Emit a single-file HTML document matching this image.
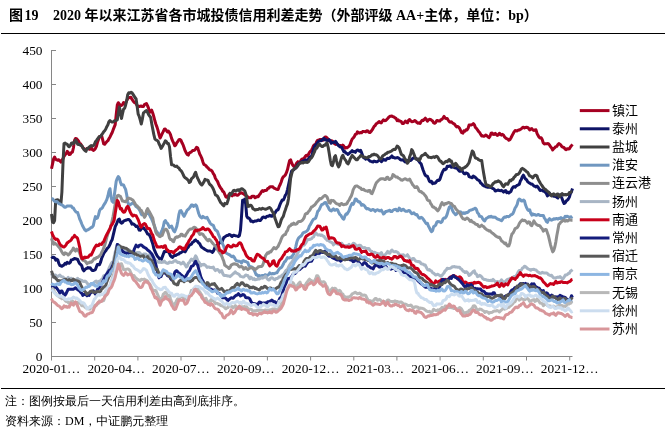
<!DOCTYPE html>
<html><head><meta charset="utf-8"><style>
*{margin:0;padding:0;box-sizing:border-box}
html,body{width:665px;height:437px;background:#fff;overflow:hidden}
body{position:relative;font-family:"Liberation Serif","Noto Sans CJK SC",serif;color:#000}
.title{position:absolute;top:6px;font-size:14px;line-height:20px;font-weight:bold;white-space:pre;font-family:"Liberation Serif","Noto Sans CJK SC",serif}
.rule{position:absolute;left:1px;width:664px;height:1px;background:#000}
.yl{position:absolute;left:0;width:42.5px;text-align:right;font-size:13.33px;line-height:16px}
.xl{position:absolute;top:361px;width:80px;text-align:center;font-size:13.33px;line-height:16px;white-space:nowrap}
.lt{position:absolute;left:612px;font-size:13px;line-height:18px;font-family:"Liberation Sans","Noto Sans CJK SC",sans-serif;letter-spacing:0}
.note{position:absolute;left:5px;font-size:12px;line-height:16px;white-space:pre;font-family:"Liberation Serif","WenQuanYi Zen Hei",serif}
svg{position:absolute;left:0;top:0}
</style></head><body>
<div class="title" style="left:9px">图</div><div class="title" style="left:24.5px">19</div><div class="title" style="left:53px">2020 年以来江苏省各市城投债信用利差走势（外部评级 AA+主体，单位：bp）</div>
<div class="rule" style="top:33px"></div>
<svg width="665" height="437" viewBox="0 0 665 437">
<g stroke="#868686" stroke-width="1" fill="none">
<line x1="51.5" y1="50" x2="51.5" y2="360.5"/>
<line x1="51" y1="356.5" x2="572.5" y2="356.5"/>
<line x1="51.5" y1="50.5" x2="56" y2="50.5"/><line x1="51.5" y1="84.5" x2="56" y2="84.5"/><line x1="51.5" y1="118.5" x2="56" y2="118.5"/><line x1="51.5" y1="152.5" x2="56" y2="152.5"/><line x1="51.5" y1="186.5" x2="56" y2="186.5"/><line x1="51.5" y1="220.5" x2="56" y2="220.5"/><line x1="51.5" y1="254.5" x2="56" y2="254.5"/><line x1="51.5" y1="288.5" x2="56" y2="288.5"/><line x1="51.5" y1="322.5" x2="56" y2="322.5"/>
<line x1="94.7" y1="356.5" x2="94.7" y2="360.5"/><line x1="137.9" y1="356.5" x2="137.9" y2="360.5"/><line x1="181.0" y1="356.5" x2="181.0" y2="360.5"/><line x1="224.2" y1="356.5" x2="224.2" y2="360.5"/><line x1="267.4" y1="356.5" x2="267.4" y2="360.5"/><line x1="310.6" y1="356.5" x2="310.6" y2="360.5"/><line x1="353.8" y1="356.5" x2="353.8" y2="360.5"/><line x1="396.9" y1="356.5" x2="396.9" y2="360.5"/><line x1="440.1" y1="356.5" x2="440.1" y2="360.5"/><line x1="483.3" y1="356.5" x2="483.3" y2="360.5"/><line x1="526.5" y1="356.5" x2="526.5" y2="360.5"/><line x1="569.7" y1="356.5" x2="569.7" y2="360.5"/>
</g>
<g fill="none" stroke-width="3.0" stroke-linejoin="round" stroke-linecap="butt">
<polyline points="51.5,168.7 52.5,164.1 53.6,158.9 54.6,157.0 55.7,159.3 56.7,159.9 57.8,160.2 58.8,159.7 59.9,160.9 60.9,162.1 61.9,160.3 63.0,158.7 64.0,156.3 65.1,154.8 66.1,153.8 67.2,151.4 68.2,152.4 69.2,154.6 70.3,154.3 71.3,152.6 72.4,152.1 73.4,148.0 74.5,140.4 75.5,138.5 76.6,138.7 77.6,139.9 78.6,141.2 79.7,143.6 80.7,144.0 81.8,145.7 82.8,147.4 83.9,148.6 84.9,149.8 86.0,149.4 87.0,148.5 88.0,148.3 89.1,149.2 90.1,149.3 91.2,147.4 92.2,149.6 93.3,150.4 94.3,149.9 95.4,148.5 96.4,146.3 97.4,142.5 98.5,139.4 99.5,136.6 100.6,136.2 101.6,135.5 102.7,139.8 103.7,143.9 104.7,144.2 105.8,142.9 106.8,141.6 107.9,140.7 108.9,138.8 110.0,136.9 111.0,134.8 112.1,132.7 113.1,129.9 114.1,127.4 115.2,124.6 116.2,114.6 117.3,104.8 118.3,102.7 119.4,104.1 120.4,105.6 121.5,105.5 122.5,104.6 123.5,102.6 124.6,103.9 125.6,102.9 126.7,100.6 127.7,98.5 128.8,97.8 129.8,97.4 130.9,97.3 131.9,99.2 132.9,100.6 134.0,102.3 135.0,102.7 136.1,103.8 137.1,105.5 138.2,106.0 139.2,106.6 140.2,106.3 141.3,106.0 142.3,106.6 143.4,106.5 144.4,104.6 145.5,104.0 146.5,103.6 147.6,105.9 148.6,108.4 149.6,112.4 150.7,111.5 151.7,110.2 152.8,113.2 153.8,116.6 154.9,121.0 155.9,124.2 157.0,127.1 158.0,130.4 159.0,134.5 160.1,138.0 161.1,136.0 162.2,133.7 163.2,131.7 164.3,129.3 165.3,129.0 166.3,130.4 167.4,132.0 168.4,131.1 169.5,132.6 170.5,134.7 171.6,138.4 172.6,140.9 173.7,143.2 174.7,145.8 175.7,145.0 176.8,142.7 177.8,141.6 178.9,139.6 179.9,139.4 181.0,140.4 182.0,142.8 183.1,144.9 184.1,147.8 185.1,150.7 186.2,152.9 187.2,154.4 188.3,155.1 189.3,153.0 190.4,152.4 191.4,151.9 192.5,150.6 193.5,150.6 194.5,150.2 195.6,149.0 196.6,147.2 197.7,147.9 198.7,151.1 199.8,154.3 200.8,156.0 201.8,158.3 202.9,161.9 203.9,164.6 205.0,164.9 206.0,165.8 207.1,167.2 208.1,168.0 209.2,169.4 210.2,170.0 211.2,170.3 212.3,171.5 213.3,173.7 214.4,175.2 215.4,178.3 216.5,180.0 217.5,181.4 218.6,184.1 219.6,186.3 220.6,187.9 221.7,189.3 222.7,191.2 223.8,192.0 224.8,194.4 225.9,196.8 226.9,197.3 228.0,196.4 229.0,194.5 230.0,193.4 231.1,195.1 232.1,195.9 233.2,194.3 234.2,195.0 235.3,194.3 236.3,194.9 237.3,195.3 238.4,194.8 239.4,193.8 240.5,192.9 241.5,192.8 242.6,193.4 243.6,193.9 244.7,194.7 245.7,195.6 246.7,195.9 247.8,196.8 248.8,197.7 249.9,197.7 250.9,197.7 252.0,196.3 253.0,196.3 254.1,196.3 255.1,197.8 256.1,197.2 257.2,196.4 258.2,196.7 259.3,194.9 260.3,193.7 261.4,191.8 262.4,190.6 263.4,191.4 264.5,190.5 265.5,190.5 266.6,190.3 267.6,188.7 268.7,188.2 269.7,187.0 270.8,186.7 271.8,186.7 272.8,186.7 273.9,188.1 274.9,188.4 276.0,189.1 277.0,189.4 278.1,189.4 279.1,186.7 280.2,184.5 281.2,182.0 282.2,178.8 283.3,176.7 284.3,176.1 285.4,174.9 286.4,172.7 287.5,169.6 288.5,165.1 289.6,160.6 290.6,159.8 291.6,162.7 292.7,165.1 293.7,166.3 294.8,165.9 295.8,165.0 296.9,162.7 297.9,161.7 298.9,162.8 300.0,162.2 301.0,160.3 302.1,158.9 303.1,159.1 304.2,158.2 305.2,156.4 306.3,155.2 307.3,156.0 308.3,154.8 309.4,152.4 310.4,151.3 311.5,150.2 312.5,148.2 313.6,145.6 314.6,144.7 315.7,144.4 316.7,141.6 317.7,140.2 318.8,140.2 319.8,139.4 320.9,139.6 321.9,139.6 323.0,140.2 324.0,138.5 325.1,137.0 326.1,137.1 327.1,137.9 328.2,139.7 329.2,140.9 330.3,141.1 331.3,140.7 332.4,141.2 333.4,142.0 334.4,143.6 335.5,144.4 336.5,144.0 337.6,144.2 338.6,145.2 339.7,145.7 340.7,145.5 341.8,146.4 342.8,145.1 343.8,146.1 344.9,148.1 345.9,147.5 347.0,147.9 348.0,147.1 349.1,146.2 350.1,144.5 351.2,141.3 352.2,139.0 353.2,138.0 354.3,136.6 355.3,134.4 356.4,134.1 357.4,131.9 358.5,132.5 359.5,133.1 360.6,132.4 361.6,132.8 362.6,131.6 363.7,131.4 364.7,131.6 365.8,131.9 366.8,130.7 367.9,130.9 368.9,132.3 369.9,132.6 371.0,131.5 372.0,130.2 373.1,128.2 374.1,126.4 375.2,125.5 376.2,123.8 377.3,123.2 378.3,122.3 379.3,121.6 380.4,122.7 381.4,122.9 382.5,120.9 383.5,119.8 384.6,120.7 385.6,120.5 386.7,119.6 387.7,118.5 388.7,117.3 389.8,116.3 390.8,116.3 391.9,116.0 392.9,116.6 394.0,117.0 395.0,117.9 396.0,118.4 397.1,120.6 398.1,119.8 399.2,121.1 400.2,121.1 401.3,121.6 402.3,123.6 403.4,123.6 404.4,122.4 405.4,121.0 406.5,122.4 407.5,122.8 408.6,120.3 409.6,119.6 410.7,120.8 411.7,121.8 412.8,121.5 413.8,121.2 414.8,120.5 415.9,121.2 416.9,122.6 418.0,123.3 419.0,122.7 420.1,123.4 421.1,121.6 422.2,120.2 423.2,120.5 424.2,119.4 425.3,118.2 426.3,119.3 427.4,121.2 428.4,120.1 429.5,119.3 430.5,119.4 431.5,120.2 432.6,121.0 433.6,122.9 434.7,123.2 435.7,122.5 436.8,120.6 437.8,120.6 438.9,121.1 439.9,121.0 440.9,119.7 442.0,119.3 443.0,118.1 444.1,116.4 445.1,118.1 446.2,118.5 447.2,118.4 448.3,120.4 449.3,121.6 450.3,122.2 451.4,121.8 452.4,122.8 453.5,123.7 454.5,124.2 455.6,125.7 456.6,126.9 457.7,126.5 458.7,127.2 459.7,128.5 460.8,130.9 461.8,132.7 462.9,133.1 463.9,130.8 465.0,131.3 466.0,129.7 467.0,130.0 468.1,128.2 469.1,125.0 470.2,124.9 471.2,125.1 472.3,124.4 473.3,123.6 474.4,124.7 475.4,127.5 476.4,128.4 477.5,129.9 478.5,131.4 479.6,132.5 480.6,134.2 481.7,136.0 482.7,135.8 483.8,136.3 484.8,135.8 485.8,135.0 486.9,135.7 487.9,136.8 489.0,137.7 490.0,136.4 491.1,133.1 492.1,132.9 493.1,134.3 494.2,134.5 495.2,133.4 496.3,134.4 497.3,135.4 498.4,134.9 499.4,133.3 500.5,134.1 501.5,135.1 502.5,134.4 503.6,135.2 504.6,136.9 505.7,138.1 506.7,138.6 507.8,139.1 508.8,140.2 509.9,139.6 510.9,138.0 511.9,136.0 513.0,133.9 514.0,132.1 515.1,130.6 516.1,130.7 517.2,130.9 518.2,130.1 519.3,130.1 520.3,129.3 521.3,128.9 522.4,127.6 523.4,127.2 524.5,128.0 525.5,127.5 526.6,127.2 527.6,127.4 528.6,128.4 529.7,130.0 530.7,129.0 531.8,128.6 532.8,130.0 533.9,130.5 534.9,129.9 536.0,129.8 537.0,133.3 538.0,135.3 539.1,137.3 540.1,137.9 541.2,137.8 542.2,139.5 543.3,143.0 544.3,143.9 545.4,143.8 546.4,143.8 547.4,143.6 548.5,143.8 549.5,144.9 550.6,146.8 551.6,147.9 552.7,150.0 553.7,148.6 554.8,147.6 555.8,146.6 556.8,146.4 557.9,144.5 558.9,143.6 560.0,144.2 561.0,145.3 562.1,146.9 563.1,147.2 564.1,147.7 565.2,149.1 566.2,149.7 567.3,148.7 568.3,149.1 569.4,148.8 570.4,147.0 571.5,145.6 572.5,144.4" stroke="#A50021"/><polyline points="51.5,256.5 52.5,257.6 53.6,257.2 54.6,258.0 55.7,260.1 56.7,259.1 57.8,259.9 58.8,263.4 59.9,265.6 60.9,265.8 61.9,266.3 63.0,265.5 64.0,264.9 65.1,263.3 66.1,264.1 67.2,262.4 68.2,263.0 69.2,263.2 70.3,262.4 71.3,259.9 72.4,259.6 73.4,259.3 74.5,258.5 75.5,258.7 76.6,259.2 77.6,259.3 78.6,261.8 79.7,263.7 80.7,264.5 81.8,265.8 82.8,269.3 83.9,270.8 84.9,269.6 86.0,268.7 87.0,268.3 88.0,267.6 89.1,268.1 90.1,267.7 91.2,269.3 92.2,270.4 93.3,270.5 94.3,270.1 95.4,269.6 96.4,266.9 97.4,264.4 98.5,264.5 99.5,264.7 100.6,262.1 101.6,258.5 102.7,255.9 103.7,253.6 104.7,251.9 105.8,250.8 106.8,249.0 107.9,247.7 108.9,246.7 110.0,244.4 111.0,241.8 112.1,239.8 113.1,235.7 114.1,231.3 115.2,226.7 116.2,224.7 117.3,222.0 118.3,219.7 119.4,219.1 120.4,222.2 121.5,223.2 122.5,222.6 123.5,221.2 124.6,220.6 125.6,220.3 126.7,220.0 127.7,219.5 128.8,219.5 129.8,220.3 130.9,221.9 131.9,224.1 132.9,223.8 134.0,224.4 135.0,225.2 136.1,226.5 137.1,226.0 138.2,227.8 139.2,230.1 140.2,230.2 141.3,228.8 142.3,227.9 143.4,227.7 144.4,229.0 145.5,230.1 146.5,231.9 147.6,234.0 148.6,234.2 149.6,235.3 150.7,237.7 151.7,240.7 152.8,244.0 153.8,248.4 154.9,251.2 155.9,253.4 157.0,255.5 158.0,257.0 159.0,257.9 160.1,259.7 161.1,259.9 162.2,257.1 163.2,254.4 164.3,251.5 165.3,251.7 166.3,251.6 167.4,250.9 168.4,251.8 169.5,253.4 170.5,255.8 171.6,256.9 172.6,257.4 173.7,256.0 174.7,255.3 175.7,255.5 176.8,254.8 177.8,254.2 178.9,254.0 179.9,252.8 181.0,252.7 182.0,251.9 183.1,251.3 184.1,251.1 185.1,251.9 186.2,250.0 187.2,248.1 188.3,247.1 189.3,245.3 190.4,244.6 191.4,244.1 192.5,242.3 193.5,241.9 194.5,240.6 195.6,239.9 196.6,241.1 197.7,241.4 198.7,243.1 199.8,243.8 200.8,246.0 201.8,247.3 202.9,248.0 203.9,248.6 205.0,249.5 206.0,250.0 207.1,250.6 208.1,251.1 209.2,250.9 210.2,251.0 211.2,251.5 212.3,252.4 213.3,251.3 214.4,249.0 215.4,246.1 216.5,245.4 217.5,245.4 218.6,244.2 219.6,242.5 220.6,241.7 221.7,242.7 222.7,240.1 223.8,237.6 224.8,236.9 225.9,236.1 226.9,235.4 228.0,235.5 229.0,234.5 230.0,234.7 231.1,235.7 232.1,236.4 233.2,235.2 234.2,235.3 235.3,235.7 236.3,235.9 237.3,236.1 238.4,236.5 239.4,235.7 240.5,230.0 241.5,216.7 242.6,200.3 243.6,201.6 244.7,199.1 245.7,203.9 246.7,216.1 247.8,217.9 248.8,218.0 249.9,219.1 250.9,221.3 252.0,221.0 253.0,222.0 254.1,221.4 255.1,221.0 256.1,221.1 257.2,220.6 258.2,219.9 259.3,220.5 260.3,220.5 261.4,219.1 262.4,217.6 263.4,217.0 264.5,217.4 265.5,217.7 266.6,216.5 267.6,216.3 268.7,216.3 269.7,215.2 270.8,216.0 271.8,216.3 272.8,214.9 273.9,214.5 274.9,213.2 276.0,211.2 277.0,210.0 278.1,209.7 279.1,207.1 280.2,204.1 281.2,201.9 282.2,200.1 283.3,200.0 284.3,198.1 285.4,195.1 286.4,193.9 287.5,189.6 288.5,185.0 289.6,179.9 290.6,174.9 291.6,171.2 292.7,170.3 293.7,169.9 294.8,168.2 295.8,167.9 296.9,166.9 297.9,164.5 298.9,163.4 300.0,162.9 301.0,162.3 302.1,161.6 303.1,160.9 304.2,160.6 305.2,160.0 306.3,160.0 307.3,160.3 308.3,159.4 309.4,157.5 310.4,156.8 311.5,156.6 312.5,153.1 313.6,149.1 314.6,146.3 315.7,144.7 316.7,143.7 317.7,142.4 318.8,141.3 319.8,140.7 320.9,140.7 321.9,140.4 323.0,139.0 324.0,138.3 325.1,140.0 326.1,139.7 327.1,140.5 328.2,140.4 329.2,139.6 330.3,140.9 331.3,143.3 332.4,142.5 333.4,142.2 334.4,142.3 335.5,141.3 336.5,142.7 337.6,144.6 338.6,145.7 339.7,146.6 340.7,147.1 341.8,147.5 342.8,149.7 343.8,151.7 344.9,151.5 345.9,153.1 347.0,153.4 348.0,154.5 349.1,153.5 350.1,152.4 351.2,151.7 352.2,150.6 353.2,151.8 354.3,151.6 355.3,152.3 356.4,150.7 357.4,150.1 358.5,150.2 359.5,151.2 360.6,150.3 361.6,152.7 362.6,155.6 363.7,157.7 364.7,158.0 365.8,159.2 366.8,158.3 367.9,159.0 368.9,160.0 369.9,161.0 371.0,161.4 372.0,161.7 373.1,162.1 374.1,161.0 375.2,161.5 376.2,161.7 377.3,161.7 378.3,160.9 379.3,160.1 380.4,160.2 381.4,161.7 382.5,160.4 383.5,159.3 384.6,160.1 385.6,160.3 386.7,158.8 387.7,158.2 388.7,158.6 389.8,158.0 390.8,157.2 391.9,155.9 392.9,157.4 394.0,157.6 395.0,158.0 396.0,157.9 397.1,157.6 398.1,157.7 399.2,158.4 400.2,159.7 401.3,160.1 402.3,159.7 403.4,160.3 404.4,161.3 405.4,162.1 406.5,161.8 407.5,160.6 408.6,160.6 409.6,160.5 410.7,160.5 411.7,159.4 412.8,158.3 413.8,157.8 414.8,157.6 415.9,158.5 416.9,159.3 418.0,160.2 419.0,161.3 420.1,162.9 421.1,163.8 422.2,167.2 423.2,170.3 424.2,172.8 425.3,175.3 426.3,176.0 427.4,176.3 428.4,178.7 429.5,181.3 430.5,182.0 431.5,181.3 432.6,183.6 433.6,183.1 434.7,183.2 435.7,182.6 436.8,181.1 437.8,180.2 438.9,180.4 439.9,179.4 440.9,176.3 442.0,173.2 443.0,171.0 444.1,169.2 445.1,169.7 446.2,169.0 447.2,166.3 448.3,166.5 449.3,166.1 450.3,165.8 451.4,167.3 452.4,166.8 453.5,166.7 454.5,167.7 455.6,168.1 456.6,167.5 457.7,169.1 458.7,170.4 459.7,171.3 460.8,171.3 461.8,170.2 462.9,172.0 463.9,173.5 465.0,173.9 466.0,172.9 467.0,173.3 468.1,174.0 469.1,176.6 470.2,177.0 471.2,177.3 472.3,177.8 473.3,176.1 474.4,176.7 475.4,177.5 476.4,178.6 477.5,179.8 478.5,180.1 479.6,181.0 480.6,183.0 481.7,183.7 482.7,185.0 483.8,185.8 484.8,186.2 485.8,186.7 486.9,186.9 487.9,187.3 489.0,187.2 490.0,187.2 491.1,187.4 492.1,188.1 493.1,188.6 494.2,189.3 495.2,191.0 496.3,190.7 497.3,190.3 498.4,190.1 499.4,190.6 500.5,190.7 501.5,190.3 502.5,191.2 503.6,192.1 504.6,191.0 505.7,190.6 506.7,192.6 507.8,192.0 508.8,193.0 509.9,192.1 510.9,191.5 511.9,188.9 513.0,187.2 514.0,186.7 515.1,187.2 516.1,186.1 517.2,185.3 518.2,184.9 519.3,184.2 520.3,181.1 521.3,179.4 522.4,176.6 523.4,175.2 524.5,177.3 525.5,179.0 526.6,179.7 527.6,181.6 528.6,182.5 529.7,183.1 530.7,183.9 531.8,184.1 532.8,184.8 533.9,186.0 534.9,186.2 536.0,186.9 537.0,186.0 538.0,187.0 539.1,188.9 540.1,190.5 541.2,190.3 542.2,190.2 543.3,191.3 544.3,191.1 545.4,192.4 546.4,193.7 547.4,195.9 548.5,195.1 549.5,193.1 550.6,195.1 551.6,195.4 552.7,195.7 553.7,196.2 554.8,196.3 555.8,196.7 556.8,197.2 557.9,198.0 558.9,195.6 560.0,194.8 561.0,196.4 562.1,198.7 563.1,201.5 564.1,203.5 565.2,202.9 566.2,201.0 567.3,200.1 568.3,199.1 569.4,197.1 570.4,193.7 571.5,191.6 572.5,188.5" stroke="#0E1466"/><polyline points="51.5,214.0 52.5,222.0 53.6,222.7 54.6,220.6 55.7,200.4 56.7,199.9 57.8,199.8 58.8,201.0 59.9,203.2 60.9,204.0 61.9,192.0 63.0,163.1 64.0,143.5 65.1,143.0 66.1,144.1 67.2,144.2 68.2,146.0 69.2,146.8 70.3,145.6 71.3,143.4 72.4,142.8 73.4,143.8 74.5,142.2 75.5,140.1 76.6,142.0 77.6,144.1 78.6,144.6 79.7,144.4 80.7,145.4 81.8,145.8 82.8,147.7 83.9,149.4 84.9,150.5 86.0,151.3 87.0,148.5 88.0,148.6 89.1,147.3 90.1,146.2 91.2,145.6 92.2,146.0 93.3,145.7 94.3,144.5 95.4,141.8 96.4,140.6 97.4,139.1 98.5,137.6 99.5,136.6 100.6,136.5 101.6,134.9 102.7,133.4 103.7,131.8 104.7,130.7 105.8,129.0 106.8,126.7 107.9,124.8 108.9,121.8 110.0,120.6 111.0,121.5 112.1,122.1 113.1,122.0 114.1,121.0 115.2,120.7 116.2,120.6 117.3,119.8 118.3,113.5 119.4,107.1 120.4,111.4 121.5,118.5 122.5,113.6 123.5,109.4 124.6,108.3 125.6,105.2 126.7,100.5 127.7,94.8 128.8,92.7 129.8,93.2 130.9,92.3 131.9,92.6 132.9,94.1 134.0,95.9 135.0,97.5 136.1,99.0 137.1,106.0 138.2,114.2 139.2,116.3 140.2,119.8 141.3,124.0 142.3,119.4 143.4,113.0 144.4,112.2 145.5,111.2 146.5,110.5 147.6,112.5 148.6,114.7 149.6,116.0 150.7,117.4 151.7,123.4 152.8,129.3 153.8,134.4 154.9,139.0 155.9,139.9 157.0,140.3 158.0,141.1 159.0,143.8 160.1,145.9 161.1,148.4 162.2,146.6 163.2,144.9 164.3,142.9 165.3,140.9 166.3,141.5 167.4,143.5 168.4,143.4 169.5,146.9 170.5,156.4 171.6,164.7 172.6,164.8 173.7,165.2 174.7,166.3 175.7,166.4 176.8,166.1 177.8,167.4 178.9,168.1 179.9,169.8 181.0,170.7 182.0,172.1 183.1,174.3 184.1,176.6 185.1,177.8 186.2,178.4 187.2,179.3 188.3,180.4 189.3,182.5 190.4,181.7 191.4,178.9 192.5,177.9 193.5,176.9 194.5,174.2 195.6,172.3 196.6,175.4 197.7,178.4 198.7,180.3 199.8,182.6 200.8,184.2 201.8,185.0 202.9,183.5 203.9,181.9 205.0,179.4 206.0,180.0 207.1,179.9 208.1,180.6 209.2,183.5 210.2,184.8 211.2,185.5 212.3,187.1 213.3,189.0 214.4,191.8 215.4,194.9 216.5,195.4 217.5,196.2 218.6,198.3 219.6,200.6 220.6,202.4 221.7,203.6 222.7,204.9 223.8,205.8 224.8,203.4 225.9,203.8 226.9,203.7 228.0,200.6 229.0,196.5 230.0,193.4 231.1,194.3 232.1,192.9 233.2,190.9 234.2,190.3 235.3,191.0 236.3,190.9 237.3,189.9 238.4,189.8 239.4,190.9 240.5,189.3 241.5,188.7 242.6,189.0 243.6,189.9 244.7,190.8 245.7,193.5 246.7,197.6 247.8,206.4 248.8,206.3 249.9,205.3 250.9,205.2 252.0,206.7 253.0,208.9 254.1,209.2 255.1,210.1 256.1,209.7 257.2,209.5 258.2,209.5 259.3,208.5 260.3,209.0 261.4,209.2 262.4,208.3 263.4,208.6 264.5,208.9 265.5,209.3 266.6,208.8 267.6,208.4 268.7,207.9 269.7,207.5 270.8,208.5 271.8,210.7 272.8,212.3 273.9,213.8 274.9,218.1 276.0,221.0 277.0,223.9 278.1,226.8 279.1,226.5 280.2,223.5 281.2,220.0 282.2,218.0 283.3,216.4 284.3,212.8 285.4,209.7 286.4,206.6 287.5,203.9 288.5,198.7 289.6,188.4 290.6,178.5 291.6,174.2 292.7,170.3 293.7,169.6 294.8,168.5 295.8,168.1 296.9,166.4 297.9,165.7 298.9,164.2 300.0,163.2 301.0,163.1 302.1,162.2 303.1,162.9 304.2,162.2 305.2,162.2 306.3,162.3 307.3,162.5 308.3,162.0 309.4,160.3 310.4,158.7 311.5,157.8 312.5,156.2 313.6,153.6 314.6,151.6 315.7,148.6 316.7,148.2 317.7,146.5 318.8,144.5 319.8,144.3 320.9,145.8 321.9,146.4 323.0,146.4 324.0,145.2 325.1,145.3 326.1,143.5 327.1,143.0 328.2,147.3 329.2,153.2 330.3,160.3 331.3,165.0 332.4,165.7 333.4,162.3 334.4,157.2 335.5,155.7 336.5,160.6 337.6,164.9 338.6,166.9 339.7,164.8 340.7,160.7 341.8,156.9 342.8,155.2 343.8,157.6 344.9,159.3 345.9,160.7 347.0,163.0 348.0,163.9 349.1,162.0 350.1,159.3 351.2,157.2 352.2,155.4 353.2,156.5 354.3,157.7 355.3,158.8 356.4,159.8 357.4,159.7 358.5,157.9 359.5,157.1 360.6,155.6 361.6,155.7 362.6,156.4 363.7,157.1 364.7,157.2 365.8,157.7 366.8,157.8 367.9,157.3 368.9,156.6 369.9,156.7 371.0,155.8 372.0,154.7 373.1,155.0 374.1,154.1 375.2,154.9 376.2,154.7 377.3,155.4 378.3,156.7 379.3,158.3 380.4,159.0 381.4,158.3 382.5,156.2 383.5,155.3 384.6,154.7 385.6,153.7 386.7,153.4 387.7,152.3 388.7,152.3 389.8,151.7 390.8,151.4 391.9,150.7 392.9,149.8 394.0,149.3 395.0,149.6 396.0,148.4 397.1,146.0 398.1,146.6 399.2,147.9 400.2,151.0 401.3,154.3 402.3,155.0 403.4,155.8 404.4,157.7 405.4,159.4 406.5,160.9 407.5,163.3 408.6,161.6 409.6,156.8 410.7,154.1 411.7,149.6 412.8,151.2 413.8,153.7 414.8,156.6 415.9,158.9 416.9,159.3 418.0,158.9 419.0,160.4 420.1,159.3 421.1,156.5 422.2,155.4 423.2,155.1 424.2,154.4 425.3,153.3 426.3,154.8 427.4,155.6 428.4,157.2 429.5,157.3 430.5,157.4 431.5,157.7 432.6,157.2 433.6,156.8 434.7,157.5 435.7,156.5 436.8,156.3 437.8,157.3 438.9,159.4 439.9,161.0 440.9,161.3 442.0,162.7 443.0,163.7 444.1,163.0 445.1,161.9 446.2,161.2 447.2,161.8 448.3,160.3 449.3,159.5 450.3,161.3 451.4,161.1 452.4,163.9 453.5,166.3 454.5,165.0 455.6,163.3 456.6,164.4 457.7,166.1 458.7,167.0 459.7,167.5 460.8,168.7 461.8,170.0 462.9,168.4 463.9,167.9 465.0,167.4 466.0,166.4 467.0,165.7 468.1,164.1 469.1,162.5 470.2,158.3 471.2,154.9 472.3,151.0 473.3,152.0 474.4,155.5 475.4,157.9 476.4,158.3 477.5,158.6 478.5,159.7 479.6,160.2 480.6,160.5 481.7,160.4 482.7,167.4 483.8,174.1 484.8,179.6 485.8,184.0 486.9,185.4 487.9,185.3 489.0,185.6 490.0,186.7 491.1,186.4 492.1,185.3 493.1,183.6 494.2,182.9 495.2,181.7 496.3,181.9 497.3,181.5 498.4,180.8 499.4,181.7 500.5,182.2 501.5,183.8 502.5,185.6 503.6,186.7 504.6,185.1 505.7,183.7 506.7,184.0 507.8,184.3 508.8,182.2 509.9,180.3 510.9,180.8 511.9,179.4 513.0,179.2 514.0,177.3 515.1,176.3 516.1,174.8 517.2,174.5 518.2,174.3 519.3,173.1 520.3,171.3 521.3,169.2 522.4,168.3 523.4,169.1 524.5,169.8 525.5,170.7 526.6,171.7 527.6,172.3 528.6,174.1 529.7,175.9 530.7,176.2 531.8,176.9 532.8,178.0 533.9,176.1 534.9,175.3 536.0,175.3 537.0,176.0 538.0,179.1 539.1,181.0 540.1,182.8 541.2,184.5 542.2,185.9 543.3,187.7 544.3,188.6 545.4,189.4 546.4,190.4 547.4,191.2 548.5,191.9 549.5,193.3 550.6,194.3 551.6,196.0 552.7,194.4 553.7,193.9 554.8,195.0 555.8,195.2 556.8,194.3 557.9,194.0 558.9,196.4 560.0,196.5 561.0,194.6 562.1,193.6 563.1,195.0 564.1,194.8 565.2,194.4 566.2,194.9 567.3,194.4 568.3,194.4 569.4,192.5 570.4,192.4 571.5,191.7 572.5,191.6" stroke="#404040"/><polyline points="51.5,198.7 52.5,198.7 53.6,200.2 54.6,201.3 55.7,201.8 56.7,201.5 57.8,202.4 58.8,203.7 59.9,203.8 60.9,204.6 61.9,205.0 63.0,205.5 64.0,206.8 65.1,207.3 66.1,206.9 67.2,205.9 68.2,205.9 69.2,206.0 70.3,206.1 71.3,206.1 72.4,207.8 73.4,208.0 74.5,210.0 75.5,211.4 76.6,212.3 77.6,212.5 78.6,215.4 79.7,219.0 80.7,221.1 81.8,224.0 82.8,226.3 83.9,228.2 84.9,229.9 86.0,230.9 87.0,230.0 88.0,229.7 89.1,229.2 90.1,228.4 91.2,227.4 92.2,227.2 93.3,225.6 94.3,220.8 95.4,216.6 96.4,218.5 97.4,217.9 98.5,214.9 99.5,210.8 100.6,208.9 101.6,208.6 102.7,207.2 103.7,205.2 104.7,203.7 105.8,201.7 106.8,199.6 107.9,196.0 108.9,191.3 110.0,188.7 111.0,196.7 112.1,201.3 113.1,202.3 114.1,196.9 115.2,188.8 116.2,181.3 117.3,178.4 118.3,176.5 119.4,178.1 120.4,182.2 121.5,184.8 122.5,184.7 123.5,184.9 124.6,187.4 125.6,189.4 126.7,194.8 127.7,201.3 128.8,205.5 129.8,204.9 130.9,204.3 131.9,203.4 132.9,203.1 134.0,203.7 135.0,205.0 136.1,206.7 137.1,207.1 138.2,208.2 139.2,209.5 140.2,211.2 141.3,214.2 142.3,214.9 143.4,214.5 144.4,214.5 145.5,214.4 146.5,213.4 147.6,213.4 148.6,213.8 149.6,214.9 150.7,217.3 151.7,219.1 152.8,221.8 153.8,224.1 154.9,227.3 155.9,230.4 157.0,232.1 158.0,233.2 159.0,234.9 160.1,236.2 161.1,232.4 162.2,229.7 163.2,227.0 164.3,221.9 165.3,220.5 166.3,222.3 167.4,223.3 168.4,225.1 169.5,227.5 170.5,226.5 171.6,226.0 172.6,228.6 173.7,230.9 174.7,231.8 175.7,229.3 176.8,226.3 177.8,221.3 178.9,214.4 179.9,210.9 181.0,210.6 182.0,212.5 183.1,215.0 184.1,216.4 185.1,214.3 186.2,212.2 187.2,210.1 188.3,209.3 189.3,208.1 190.4,206.7 191.4,205.1 192.5,204.9 193.5,206.4 194.5,205.8 195.6,204.8 196.6,206.0 197.7,209.9 198.7,213.5 199.8,216.1 200.8,217.3 201.8,217.9 202.9,216.4 203.9,217.4 205.0,217.7 206.0,218.0 207.1,217.4 208.1,219.4 209.2,221.3 210.2,223.2 211.2,224.2 212.3,224.9 213.3,225.3 214.4,228.1 215.4,230.0 216.5,230.6 217.5,231.6 218.6,234.7 219.6,236.9 220.6,239.8 221.7,242.4 222.7,244.0 223.8,246.5 224.8,249.8 225.9,252.7 226.9,253.4 228.0,254.1 229.0,254.5 230.0,255.1 231.1,256.2 232.1,256.8 233.2,256.1 234.2,257.2 235.3,259.3 236.3,260.7 237.3,260.9 238.4,261.2 239.4,261.3 240.5,261.7 241.5,263.0 242.6,261.0 243.6,260.6 244.7,261.4 245.7,261.4 246.7,262.2 247.8,262.6 248.8,265.4 249.9,266.5 250.9,266.7 252.0,267.1 253.0,267.7 254.1,269.9 255.1,272.2 256.1,274.7 257.2,274.8 258.2,276.3 259.3,275.5 260.3,276.1 261.4,275.9 262.4,275.4 263.4,275.6 264.5,275.2 265.5,274.7 266.6,275.5 267.6,275.3 268.7,274.6 269.7,272.9 270.8,273.8 271.8,273.9 272.8,273.4 273.9,273.7 274.9,273.4 276.0,272.9 277.0,272.7 278.1,270.8 279.1,269.2 280.2,267.9 281.2,267.7 282.2,266.3 283.3,264.3 284.3,262.0 285.4,261.2 286.4,259.5 287.5,257.5 288.5,258.0 289.6,258.0 290.6,257.0 291.6,257.5 292.7,255.3 293.7,254.0 294.8,250.5 295.8,246.6 296.9,241.8 297.9,239.2 298.9,237.6 300.0,236.8 301.0,236.1 302.1,234.6 303.1,232.8 304.2,232.3 305.2,232.1 306.3,231.4 307.3,230.6 308.3,229.2 309.4,226.0 310.4,224.6 311.5,222.5 312.5,220.6 313.6,219.1 314.6,218.9 315.7,218.0 316.7,215.0 317.7,211.4 318.8,210.4 319.8,208.5 320.9,206.0 321.9,204.4 323.0,204.3 324.0,203.3 325.1,202.5 326.1,202.7 327.1,205.5 328.2,207.1 329.2,209.4 330.3,210.5 331.3,210.9 332.4,209.7 333.4,208.8 334.4,210.2 335.5,210.2 336.5,209.4 337.6,209.9 338.6,212.2 339.7,214.3 340.7,215.1 341.8,217.0 342.8,218.5 343.8,219.2 344.9,216.0 345.9,214.1 347.0,214.3 348.0,212.6 349.1,210.8 350.1,207.5 351.2,205.0 352.2,203.3 353.2,204.3 354.3,201.8 355.3,199.1 356.4,199.3 357.4,200.9 358.5,201.9 359.5,201.7 360.6,203.1 361.6,205.3 362.6,204.5 363.7,205.1 364.7,206.0 365.8,207.9 366.8,208.9 367.9,208.6 368.9,209.1 369.9,209.7 371.0,210.4 372.0,209.9 373.1,209.4 374.1,210.2 375.2,211.3 376.2,210.2 377.3,209.8 378.3,210.1 379.3,210.8 380.4,210.9 381.4,210.1 382.5,212.1 383.5,214.0 384.6,213.1 385.6,211.6 386.7,211.4 387.7,211.0 388.7,210.7 389.8,210.2 390.8,211.6 391.9,211.6 392.9,210.4 394.0,209.6 395.0,209.4 396.0,209.3 397.1,210.8 398.1,210.7 399.2,208.1 400.2,209.1 401.3,210.6 402.3,209.6 403.4,209.2 404.4,210.3 405.4,211.2 406.5,211.2 407.5,211.2 408.6,210.5 409.6,210.7 410.7,212.3 411.7,213.7 412.8,213.4 413.8,212.8 414.8,214.0 415.9,214.7 416.9,214.6 418.0,216.5 419.0,218.0 420.1,218.2 421.1,217.3 422.2,217.8 423.2,219.1 424.2,220.6 425.3,222.3 426.3,223.7 427.4,223.3 428.4,226.0 429.5,228.0 430.5,230.1 431.5,231.7 432.6,230.6 433.6,226.8 434.7,226.0 435.7,225.1 436.8,222.2 437.8,221.4 438.9,221.8 439.9,221.8 440.9,222.7 442.0,221.7 443.0,218.9 444.1,218.0 445.1,218.0 446.2,216.6 447.2,214.1 448.3,210.1 449.3,207.1 450.3,206.3 451.4,207.2 452.4,210.2 453.5,212.3 454.5,213.4 455.6,214.7 456.6,214.0 457.7,212.7 458.7,212.2 459.7,211.8 460.8,212.0 461.8,212.8 462.9,213.5 463.9,212.8 465.0,213.5 466.0,212.6 467.0,212.7 468.1,212.2 469.1,210.8 470.2,210.2 471.2,210.1 472.3,209.7 473.3,209.1 474.4,208.7 475.4,208.2 476.4,209.5 477.5,212.7 478.5,213.7 479.6,216.3 480.6,216.3 481.7,216.8 482.7,218.9 483.8,220.2 484.8,220.9 485.8,218.9 486.9,218.0 487.9,217.5 489.0,216.6 490.0,217.1 491.1,216.2 492.1,217.1 493.1,217.3 494.2,217.1 495.2,217.3 496.3,218.1 497.3,219.0 498.4,219.2 499.4,219.8 500.5,220.1 501.5,220.7 502.5,219.5 503.6,217.7 504.6,217.1 505.7,217.3 506.7,216.6 507.8,216.4 508.8,216.7 509.9,215.8 510.9,214.8 511.9,214.6 513.0,213.4 514.0,211.1 515.1,208.0 516.1,206.6 517.2,204.3 518.2,200.4 519.3,199.0 520.3,199.5 521.3,201.0 522.4,200.9 523.4,200.0 524.5,200.9 525.5,204.8 526.6,207.7 527.6,209.7 528.6,210.4 529.7,209.8 530.7,213.1 531.8,215.1 532.8,213.9 533.9,214.7 534.9,214.6 536.0,215.2 537.0,215.2 538.0,214.4 539.1,214.9 540.1,215.5 541.2,215.5 542.2,215.4 543.3,215.4 544.3,217.9 545.4,219.4 546.4,221.6 547.4,222.3 548.5,219.8 549.5,218.7 550.6,219.8 551.6,220.2 552.7,219.7 553.7,218.7 554.8,219.2 555.8,218.7 556.8,218.4 557.9,219.1 558.9,218.3 560.0,218.6 561.0,217.6 562.1,218.5 563.1,218.9 564.1,218.2 565.2,216.3 566.2,216.7 567.3,216.2 568.3,216.8 569.4,217.4 570.4,216.8 571.5,217.2 572.5,216.6" stroke="#7097C0"/><polyline points="51.5,238.4 52.5,241.6 53.6,244.3 54.6,242.9 55.7,243.8 56.7,244.6 57.8,245.7 58.8,247.0 59.9,248.2 60.9,250.1 61.9,252.0 63.0,253.8 64.0,254.6 65.1,252.8 66.1,253.3 67.2,254.0 68.2,255.0 69.2,254.2 70.3,252.8 71.3,251.2 72.4,250.1 73.4,248.0 74.5,250.0 75.5,251.1 76.6,249.1 77.6,249.8 78.6,250.9 79.7,253.1 80.7,256.4 81.8,259.1 82.8,260.3 83.9,260.5 84.9,260.8 86.0,262.2 87.0,263.8 88.0,262.7 89.1,262.7 90.1,262.0 91.2,262.3 92.2,261.5 93.3,259.9 94.3,258.6 95.4,258.9 96.4,257.6 97.4,257.6 98.5,256.7 99.5,255.8 100.6,254.8 101.6,252.5 102.7,250.6 103.7,247.9 104.7,245.4 105.8,241.3 106.8,237.3 107.9,233.7 108.9,230.9 110.0,228.6 111.0,225.5 112.1,220.9 113.1,216.3 114.1,210.5 115.2,203.9 116.2,199.2 117.3,195.8 118.3,195.3 119.4,195.9 120.4,196.3 121.5,198.8 122.5,201.1 123.5,201.1 124.6,201.6 125.6,201.8 126.7,200.4 127.7,198.4 128.8,198.1 129.8,198.6 130.9,198.7 131.9,199.7 132.9,200.2 134.0,201.8 135.0,203.7 136.1,205.3 137.1,205.8 138.2,207.4 139.2,207.8 140.2,209.9 141.3,210.3 142.3,212.4 143.4,214.4 144.4,217.4 145.5,215.7 146.5,210.6 147.6,208.6 148.6,210.5 149.6,212.1 150.7,214.2 151.7,216.2 152.8,218.3 153.8,223.8 154.9,228.0 155.9,232.3 157.0,234.2 158.0,234.9 159.0,236.2 160.1,236.7 161.1,235.9 162.2,235.4 163.2,232.7 164.3,230.1 165.3,229.3 166.3,229.3 167.4,230.9 168.4,233.7 169.5,238.2 170.5,239.5 171.6,239.4 172.6,241.1 173.7,241.6 174.7,238.8 175.7,237.3 176.8,236.8 177.8,237.3 178.9,236.2 179.9,236.2 181.0,234.3 182.0,234.3 183.1,235.7 184.1,235.8 185.1,236.2 186.2,234.0 187.2,232.6 188.3,230.8 189.3,229.8 190.4,228.9 191.4,229.0 192.5,228.6 193.5,227.6 194.5,227.2 195.6,227.8 196.6,229.2 197.7,230.7 198.7,232.7 199.8,234.4 200.8,233.7 201.8,233.8 202.9,234.3 203.9,236.0 205.0,237.2 206.0,238.7 207.1,240.0 208.1,240.8 209.2,239.4 210.2,240.1 211.2,241.4 212.3,242.8 213.3,244.0 214.4,245.0 215.4,246.0 216.5,247.8 217.5,249.6 218.6,251.2 219.6,252.8 220.6,254.2 221.7,255.9 222.7,258.6 223.8,261.3 224.8,265.3 225.9,265.9 226.9,266.8 228.0,267.4 229.0,268.5 230.0,267.7 231.1,265.2 232.1,264.7 233.2,263.9 234.2,263.8 235.3,264.0 236.3,264.4 237.3,264.4 238.4,266.0 239.4,267.0 240.5,266.8 241.5,266.4 242.6,267.2 243.6,269.2 244.7,268.1 245.7,267.5 246.7,268.8 247.8,269.5 248.8,268.7 249.9,268.0 250.9,267.7 252.0,267.6 253.0,268.8 254.1,268.5 255.1,269.8 256.1,268.7 257.2,268.1 258.2,266.8 259.3,266.7 260.3,266.5 261.4,266.6 262.4,265.7 263.4,263.2 264.5,259.4 265.5,255.8 266.6,254.1 267.6,252.7 268.7,253.2 269.7,251.7 270.8,252.0 271.8,250.4 272.8,249.1 273.9,247.6 274.9,248.3 276.0,248.8 277.0,247.5 278.1,246.4 279.1,244.0 280.2,241.9 281.2,239.1 282.2,236.8 283.3,235.6 284.3,234.7 285.4,234.6 286.4,231.8 287.5,230.5 288.5,227.4 289.6,226.0 290.6,225.6 291.6,224.0 292.7,224.4 293.7,223.1 294.8,224.3 295.8,224.2 296.9,223.6 297.9,222.1 298.9,221.5 300.0,221.6 301.0,221.3 302.1,220.6 303.1,219.4 304.2,217.6 305.2,214.4 306.3,213.4 307.3,213.6 308.3,211.8 309.4,210.7 310.4,209.2 311.5,206.9 312.5,206.7 313.6,205.7 314.6,205.0 315.7,203.7 316.7,202.1 317.7,201.2 318.8,199.8 319.8,198.5 320.9,198.9 321.9,198.1 323.0,196.9 324.0,196.0 325.1,195.4 326.1,196.0 327.1,197.1 328.2,200.0 329.2,202.6 330.3,203.1 331.3,200.4 332.4,200.7 333.4,200.6 334.4,201.6 335.5,202.8 336.5,203.6 337.6,204.0 338.6,204.3 339.7,205.4 340.7,203.9 341.8,203.5 342.8,204.6 343.8,204.8 344.9,204.2 345.9,204.4 347.0,203.5 348.0,201.4 349.1,200.1 350.1,197.9 351.2,196.1 352.2,193.5 353.2,189.6 354.3,187.6 355.3,186.2 356.4,186.0 357.4,186.1 358.5,186.9 359.5,187.7 360.6,187.9 361.6,189.5 362.6,189.4 363.7,189.3 364.7,190.4 365.8,190.7 366.8,190.9 367.9,191.4 368.9,190.4 369.9,190.5 371.0,193.2 372.0,193.6 373.1,191.1 374.1,188.4 375.2,185.4 376.2,183.0 377.3,181.7 378.3,180.7 379.3,179.9 380.4,179.0 381.4,178.7 382.5,178.8 383.5,178.8 384.6,179.5 385.6,179.5 386.7,177.5 387.7,177.2 388.7,179.2 389.8,179.5 390.8,178.6 391.9,177.8 392.9,174.6 394.0,175.3 395.0,176.2 396.0,176.9 397.1,176.9 398.1,177.9 399.2,178.3 400.2,179.1 401.3,180.1 402.3,180.2 403.4,179.5 404.4,179.0 405.4,178.8 406.5,179.3 407.5,180.1 408.6,180.0 409.6,179.0 410.7,181.2 411.7,182.9 412.8,185.0 413.8,185.9 414.8,187.5 415.9,187.6 416.9,186.7 418.0,188.2 419.0,190.8 420.1,191.7 421.1,191.5 422.2,192.8 423.2,193.2 424.2,194.4 425.3,195.7 426.3,197.2 427.4,199.8 428.4,200.6 429.5,200.8 430.5,203.3 431.5,204.7 432.6,206.9 433.6,206.9 434.7,208.0 435.7,208.3 436.8,209.9 437.8,210.8 438.9,209.3 439.9,207.6 440.9,204.6 442.0,202.6 443.0,204.3 444.1,205.0 445.1,203.6 446.2,203.8 447.2,203.0 448.3,202.5 449.3,202.8 450.3,203.4 451.4,203.5 452.4,205.0 453.5,206.1 454.5,206.5 455.6,208.5 456.6,209.7 457.7,210.8 458.7,212.5 459.7,212.9 460.8,215.2 461.8,217.2 462.9,218.7 463.9,218.9 465.0,219.5 466.0,218.8 467.0,218.0 468.1,218.8 469.1,219.8 470.2,221.3 471.2,220.4 472.3,222.0 473.3,222.3 474.4,222.9 475.4,224.0 476.4,224.4 477.5,224.5 478.5,226.2 479.6,226.8 480.6,226.1 481.7,225.2 482.7,226.3 483.8,226.6 484.8,228.3 485.8,228.9 486.9,229.8 487.9,230.2 489.0,230.9 490.0,230.7 491.1,232.1 492.1,232.9 493.1,233.6 494.2,234.5 495.2,235.5 496.3,236.4 497.3,236.9 498.4,237.5 499.4,237.2 500.5,238.8 501.5,240.9 502.5,241.5 503.6,242.5 504.6,243.6 505.7,243.1 506.7,245.2 507.8,246.1 508.8,245.9 509.9,242.9 510.9,237.7 511.9,234.1 513.0,233.0 514.0,231.1 515.1,228.6 516.1,228.2 517.2,227.5 518.2,226.2 519.3,223.5 520.3,222.0 521.3,220.9 522.4,219.8 523.4,220.7 524.5,220.3 525.5,221.0 526.6,222.0 527.6,223.2 528.6,221.8 529.7,222.2 530.7,225.1 531.8,225.6 532.8,223.4 533.9,220.9 534.9,222.6 536.0,224.1 537.0,224.9 538.0,225.4 539.1,225.4 540.1,226.1 541.2,227.8 542.2,228.6 543.3,231.1 544.3,230.3 545.4,229.4 546.4,229.9 547.4,232.9 548.5,236.1 549.5,240.3 550.6,245.1 551.6,248.5 552.7,251.9 553.7,250.6 554.8,247.0 555.8,242.1 556.8,235.7 557.9,230.0 558.9,224.3 560.0,223.3 561.0,221.9 562.1,221.4 563.1,220.2 564.1,220.5 565.2,221.2 566.2,220.3 567.3,221.1 568.3,220.6 569.4,219.8 570.4,220.1 571.5,220.3 572.5,220.3" stroke="#8E8E8E"/><polyline points="51.5,273.6 52.5,275.7 53.6,276.3 54.6,275.1 55.7,275.1 56.7,276.0 57.8,276.6 58.8,275.8 59.9,275.1 60.9,276.3 61.9,276.7 63.0,276.9 64.0,278.4 65.1,279.5 66.1,279.1 67.2,278.7 68.2,277.4 69.2,279.7 70.3,278.7 71.3,278.2 72.4,279.8 73.4,281.1 74.5,280.8 75.5,280.0 76.6,279.2 77.6,278.3 78.6,279.7 79.7,279.4 80.7,280.6 81.8,280.2 82.8,281.3 83.9,281.5 84.9,281.1 86.0,281.6 87.0,283.0 88.0,284.2 89.1,284.4 90.1,284.5 91.2,283.6 92.2,283.8 93.3,284.8 94.3,282.3 95.4,281.3 96.4,281.1 97.4,283.0 98.5,281.6 99.5,281.1 100.6,280.7 101.6,279.4 102.7,278.1 103.7,275.9 104.7,276.7 105.8,276.5 106.8,274.2 107.9,271.1 108.9,268.7 110.0,266.2 111.0,264.1 112.1,262.3 113.1,262.0 114.1,257.4 115.2,252.2 116.2,248.3 117.3,244.6 118.3,246.1 119.4,247.6 120.4,249.3 121.5,251.1 122.5,250.5 123.5,248.9 124.6,249.9 125.6,250.2 126.7,251.1 127.7,251.3 128.8,250.0 129.8,250.3 130.9,252.6 131.9,252.8 132.9,252.2 134.0,252.2 135.0,252.7 136.1,253.2 137.1,252.6 138.2,252.7 139.2,252.4 140.2,253.3 141.3,255.3 142.3,255.1 143.4,254.1 144.4,254.1 145.5,253.9 146.5,254.9 147.6,256.9 148.6,255.1 149.6,255.4 150.7,256.7 151.7,258.1 152.8,258.2 153.8,258.3 154.9,259.9 155.9,260.4 157.0,262.0 158.0,261.8 159.0,262.3 160.1,261.3 161.1,262.4 162.2,262.2 163.2,262.2 164.3,261.1 165.3,262.2 166.3,262.9 167.4,263.4 168.4,263.2 169.5,261.9 170.5,262.1 171.6,262.6 172.6,262.4 173.7,261.2 174.7,260.8 175.7,260.6 176.8,261.7 177.8,262.4 178.9,262.2 179.9,262.8 181.0,264.0 182.0,263.5 183.1,262.1 184.1,263.2 185.1,264.9 186.2,266.9 187.2,266.2 188.3,263.3 189.3,262.6 190.4,260.5 191.4,259.0 192.5,259.5 193.5,260.8 194.5,258.4 195.6,255.9 196.6,257.4 197.7,260.6 198.7,261.9 199.8,263.6 200.8,265.9 201.8,264.5 202.9,264.9 203.9,264.3 205.0,265.0 206.0,265.8 207.1,267.4 208.1,267.1 209.2,267.0 210.2,267.6 211.2,267.5 212.3,267.7 213.3,267.1 214.4,269.4 215.4,270.6 216.5,269.7 217.5,269.5 218.6,270.4 219.6,272.1 220.6,271.0 221.7,270.5 222.7,273.4 223.8,275.2 224.8,275.5 225.9,275.5 226.9,275.7 228.0,276.1 229.0,275.9 230.0,276.6 231.1,275.6 232.1,274.8 233.2,273.7 234.2,273.0 235.3,271.8 236.3,273.1 237.3,273.4 238.4,274.1 239.4,274.8 240.5,276.4 241.5,276.6 242.6,276.9 243.6,277.0 244.7,276.1 245.7,275.0 246.7,275.4 247.8,275.5 248.8,277.3 249.9,278.8 250.9,277.2 252.0,278.1 253.0,279.4 254.1,278.6 255.1,279.8 256.1,279.5 257.2,279.3 258.2,279.0 259.3,279.1 260.3,278.3 261.4,277.7 262.4,278.2 263.4,277.8 264.5,277.0 265.5,276.2 266.6,277.7 267.6,279.3 268.7,280.0 269.7,279.6 270.8,277.9 271.8,277.7 272.8,278.1 273.9,279.4 274.9,279.7 276.0,278.4 277.0,278.6 278.1,278.0 279.1,276.8 280.2,276.9 281.2,276.1 282.2,275.0 283.3,274.7 284.3,273.2 285.4,271.2 286.4,270.0 287.5,269.4 288.5,267.0 289.6,265.1 290.6,263.5 291.6,262.4 292.7,260.7 293.7,258.8 294.8,258.0 295.8,256.5 296.9,255.0 297.9,252.8 298.9,250.9 300.0,249.9 301.0,247.2 302.1,246.1 303.1,244.8 304.2,245.0 305.2,243.8 306.3,242.1 307.3,239.4 308.3,239.8 309.4,239.3 310.4,239.3 311.5,238.7 312.5,237.5 313.6,237.0 314.6,234.5 315.7,232.8 316.7,233.9 317.7,234.9 318.8,235.1 319.8,234.8 320.9,235.4 321.9,235.0 323.0,236.1 324.0,236.4 325.1,238.2 326.1,238.9 327.1,240.3 328.2,240.4 329.2,241.2 330.3,241.9 331.3,242.3 332.4,242.9 333.4,244.9 334.4,243.7 335.5,242.5 336.5,243.7 337.6,243.7 338.6,244.5 339.7,243.7 340.7,243.5 341.8,243.2 342.8,244.9 343.8,245.9 344.9,246.0 345.9,245.6 347.0,245.7 348.0,245.5 349.1,244.3 350.1,245.6 351.2,247.0 352.2,244.8 353.2,243.2 354.3,243.4 355.3,244.5 356.4,245.7 357.4,245.7 358.5,245.5 359.5,245.2 360.6,245.5 361.6,246.8 362.6,247.4 363.7,248.1 364.7,247.6 365.8,248.2 366.8,248.4 367.9,248.7 368.9,248.5 369.9,250.1 371.0,251.2 372.0,251.5 373.1,253.1 374.1,252.3 375.2,252.5 376.2,253.0 377.3,253.5 378.3,253.7 379.3,255.3 380.4,253.6 381.4,252.5 382.5,254.8 383.5,257.5 384.6,255.3 385.6,254.3 386.7,252.8 387.7,251.4 388.7,253.1 389.8,253.2 390.8,251.3 391.9,250.0 392.9,251.2 394.0,251.8 395.0,251.7 396.0,251.5 397.1,252.0 398.1,252.7 399.2,254.6 400.2,255.2 401.3,255.0 402.3,255.0 403.4,254.8 404.4,256.0 405.4,256.1 406.5,255.7 407.5,254.7 408.6,256.7 409.6,258.2 410.7,259.0 411.7,259.7 412.8,258.5 413.8,258.4 414.8,260.1 415.9,261.3 416.9,261.3 418.0,261.7 419.0,261.5 420.1,262.1 421.1,263.7 422.2,263.9 423.2,264.2 424.2,265.1 425.3,265.1 426.3,267.3 427.4,269.4 428.4,270.1 429.5,269.6 430.5,270.8 431.5,271.0 432.6,272.8 433.6,273.2 434.7,274.2 435.7,275.1 436.8,274.7 437.8,274.2 438.9,274.9 439.9,275.7 440.9,276.2 442.0,275.4 443.0,274.1 444.1,272.8 445.1,270.7 446.2,270.1 447.2,268.3 448.3,268.4 449.3,268.4 450.3,268.2 451.4,267.6 452.4,266.7 453.5,266.7 454.5,266.5 455.6,267.1 456.6,267.1 457.7,267.2 458.7,267.3 459.7,267.3 460.8,268.8 461.8,269.4 462.9,271.0 463.9,271.4 465.0,272.5 466.0,271.7 467.0,272.2 468.1,273.5 469.1,275.5 470.2,275.0 471.2,273.6 472.3,272.6 473.3,271.3 474.4,270.9 475.4,273.7 476.4,274.2 477.5,276.6 478.5,276.3 479.6,275.3 480.6,275.8 481.7,276.8 482.7,278.6 483.8,279.4 484.8,279.3 485.8,279.7 486.9,280.2 487.9,280.2 489.0,280.5 490.0,280.4 491.1,280.2 492.1,280.7 493.1,279.4 494.2,280.6 495.2,281.5 496.3,282.3 497.3,281.4 498.4,281.9 499.4,281.9 500.5,281.4 501.5,279.8 502.5,281.2 503.6,282.1 504.6,282.1 505.7,281.0 506.7,280.0 507.8,279.2 508.8,279.3 509.9,278.4 510.9,279.7 511.9,279.1 513.0,277.2 514.0,276.6 515.1,276.8 516.1,275.8 517.2,274.2 518.2,271.9 519.3,270.5 520.3,270.4 521.3,270.1 522.4,268.1 523.4,267.6 524.5,266.2 525.5,266.6 526.6,267.6 527.6,268.6 528.6,269.1 529.7,269.5 530.7,270.3 531.8,269.4 532.8,269.5 533.9,269.2 534.9,269.8 536.0,269.9 537.0,271.1 538.0,272.0 539.1,272.6 540.1,273.2 541.2,273.2 542.2,272.3 543.3,272.8 544.3,273.1 545.4,272.9 546.4,273.0 547.4,273.4 548.5,274.7 549.5,275.2 550.6,275.7 551.6,275.2 552.7,276.9 553.7,277.9 554.8,277.9 555.8,278.1 556.8,277.4 557.9,277.1 558.9,277.4 560.0,276.6 561.0,277.6 562.1,278.5 563.1,278.6 564.1,277.2 565.2,275.1 566.2,275.1 567.3,274.7 568.3,273.4 569.4,273.2 570.4,271.3 571.5,270.6 572.5,269.7" stroke="#A8B5C4"/><polyline points="51.5,231.5 52.5,234.6 53.6,236.7 54.6,238.4 55.7,239.5 56.7,239.0 57.8,239.7 58.8,241.9 59.9,244.1 60.9,245.4 61.9,246.0 63.0,246.9 64.0,247.1 65.1,246.2 66.1,244.9 67.2,242.8 68.2,242.3 69.2,241.3 70.3,240.9 71.3,239.7 72.4,237.7 73.4,237.4 74.5,235.4 75.5,236.7 76.6,237.3 77.6,238.5 78.6,242.5 79.7,247.3 80.7,254.2 81.8,258.4 82.8,258.9 83.9,257.6 84.9,257.0 86.0,257.6 87.0,257.3 88.0,257.2 89.1,256.0 90.1,254.8 91.2,255.0 92.2,253.0 93.3,250.7 94.3,248.3 95.4,246.6 96.4,245.0 97.4,245.7 98.5,245.6 99.5,244.1 100.6,244.3 101.6,244.4 102.7,242.5 103.7,241.7 104.7,239.1 105.8,236.5 106.8,234.5 107.9,232.5 108.9,230.6 110.0,228.8 111.0,225.8 112.1,224.5 113.1,222.5 114.1,220.5 115.2,213.2 116.2,207.2 117.3,200.4 118.3,201.9 119.4,206.1 120.4,209.0 121.5,208.6 122.5,211.1 123.5,212.2 124.6,212.0 125.6,210.2 126.7,207.4 127.7,206.3 128.8,208.1 129.8,211.0 130.9,213.3 131.9,214.9 132.9,216.0 134.0,215.1 135.0,215.4 136.1,215.7 137.1,217.6 138.2,219.7 139.2,222.5 140.2,225.9 141.3,227.2 142.3,225.2 143.4,224.2 144.4,223.6 145.5,224.3 146.5,226.6 147.6,228.4 148.6,228.4 149.6,228.7 150.7,231.1 151.7,233.7 152.8,235.2 153.8,238.8 154.9,241.9 155.9,243.9 157.0,246.9 158.0,246.8 159.0,246.9 160.1,247.1 161.1,246.6 162.2,246.7 163.2,247.4 164.3,246.0 165.3,245.7 166.3,249.0 167.4,249.9 168.4,251.5 169.5,251.3 170.5,251.7 171.6,251.4 172.6,252.1 173.7,253.0 174.7,251.3 175.7,250.6 176.8,249.5 177.8,249.0 178.9,247.4 179.9,246.8 181.0,247.4 182.0,248.9 183.1,248.1 184.1,249.3 185.1,248.5 186.2,245.6 187.2,244.0 188.3,242.2 189.3,240.3 190.4,238.8 191.4,236.8 192.5,235.4 193.5,234.2 194.5,231.3 195.6,230.1 196.6,230.9 197.7,230.2 198.7,230.1 199.8,230.0 200.8,229.3 201.8,229.0 202.9,227.5 203.9,228.6 205.0,229.7 206.0,229.8 207.1,229.0 208.1,228.9 209.2,229.8 210.2,231.4 211.2,232.9 212.3,234.6 213.3,236.7 214.4,237.3 215.4,239.1 216.5,240.3 217.5,243.0 218.6,246.4 219.6,250.4 220.6,250.7 221.7,251.2 222.7,252.9 223.8,252.4 224.8,251.5 225.9,248.9 226.9,246.4 228.0,245.2 229.0,245.8 230.0,246.6 231.1,247.1 232.1,246.8 233.2,245.0 234.2,245.4 235.3,245.9 236.3,245.8 237.3,245.5 238.4,243.8 239.4,242.8 240.5,243.0 241.5,244.6 242.6,247.7 243.6,249.9 244.7,251.5 245.7,254.3 246.7,256.1 247.8,257.1 248.8,258.4 249.9,258.6 250.9,258.6 252.0,260.4 253.0,261.0 254.1,261.1 255.1,258.7 256.1,256.3 257.2,254.3 258.2,254.6 259.3,255.2 260.3,256.5 261.4,257.4 262.4,258.2 263.4,258.2 264.5,259.8 265.5,261.2 266.6,261.7 267.6,261.4 268.7,264.0 269.7,265.9 270.8,264.8 271.8,263.9 272.8,261.1 273.9,260.8 274.9,264.1 276.0,265.7 277.0,266.2 278.1,263.8 279.1,261.2 280.2,259.7 281.2,258.9 282.2,257.4 283.3,255.4 284.3,254.4 285.4,251.9 286.4,251.6 287.5,251.1 288.5,249.8 289.6,248.7 290.6,249.8 291.6,251.0 292.7,250.7 293.7,251.3 294.8,250.7 295.8,251.0 296.9,249.7 297.9,249.7 298.9,249.2 300.0,248.1 301.0,246.0 302.1,244.3 303.1,243.7 304.2,240.6 305.2,237.9 306.3,236.1 307.3,235.5 308.3,234.9 309.4,234.1 310.4,233.7 311.5,233.5 312.5,232.6 313.6,231.1 314.6,230.3 315.7,229.2 316.7,227.6 317.7,225.9 318.8,226.2 319.8,226.3 320.9,228.1 321.9,230.1 323.0,229.8 324.0,227.9 325.1,228.6 326.1,227.0 327.1,230.5 328.2,235.8 329.2,238.4 330.3,238.0 331.3,237.8 332.4,237.9 333.4,238.1 334.4,238.9 335.5,241.0 336.5,242.4 337.6,243.0 338.6,243.0 339.7,243.4 340.7,244.9 341.8,246.6 342.8,245.7 343.8,245.9 344.9,247.1 345.9,247.1 347.0,247.0 348.0,246.8 349.1,247.4 350.1,247.0 351.2,246.3 352.2,245.9 353.2,245.6 354.3,246.8 355.3,249.1 356.4,249.3 357.4,249.0 358.5,248.5 359.5,248.5 360.6,250.3 361.6,252.4 362.6,251.6 363.7,251.5 364.7,251.5 365.8,251.1 366.8,252.8 367.9,254.4 368.9,254.4 369.9,254.7 371.0,254.1 372.0,254.2 373.1,255.0 374.1,256.6 375.2,257.4 376.2,257.0 377.3,255.4 378.3,256.9 379.3,257.3 380.4,258.0 381.4,258.6 382.5,257.5 383.5,257.2 384.6,257.5 385.6,258.7 386.7,257.7 387.7,257.4 388.7,257.5 389.8,258.4 390.8,258.5 391.9,259.3 392.9,258.3 394.0,256.5 395.0,256.5 396.0,256.8 397.1,258.1 398.1,257.7 399.2,256.7 400.2,256.1 401.3,256.5 402.3,257.5 403.4,259.2 404.4,260.6 405.4,260.6 406.5,261.3 407.5,260.8 408.6,261.8 409.6,260.6 410.7,262.9 411.7,265.3 412.8,265.3 413.8,266.0 414.8,268.1 415.9,268.7 416.9,268.2 418.0,268.8 419.0,270.9 420.1,271.9 421.1,273.5 422.2,274.5 423.2,274.4 424.2,275.1 425.3,275.8 426.3,276.6 427.4,278.1 428.4,278.8 429.5,279.6 430.5,280.9 431.5,281.9 432.6,283.8 433.6,284.1 434.7,282.8 435.7,280.9 436.8,282.1 437.8,282.3 438.9,281.2 439.9,281.0 440.9,279.9 442.0,279.5 443.0,280.5 444.1,280.4 445.1,279.3 446.2,280.0 447.2,280.7 448.3,280.1 449.3,277.8 450.3,277.0 451.4,276.5 452.4,276.1 453.5,275.4 454.5,275.9 455.6,276.3 456.6,277.1 457.7,279.0 458.7,277.3 459.7,276.7 460.8,277.5 461.8,278.9 462.9,281.9 463.9,282.9 465.0,281.9 466.0,282.1 467.0,283.9 468.1,284.4 469.1,283.4 470.2,283.4 471.2,283.3 472.3,283.3 473.3,283.5 474.4,282.2 475.4,282.9 476.4,282.8 477.5,282.4 478.5,282.3 479.6,282.7 480.6,283.5 481.7,285.0 482.7,286.1 483.8,287.2 484.8,286.5 485.8,286.7 486.9,287.7 487.9,287.3 489.0,287.2 490.0,286.7 491.1,286.4 492.1,285.9 493.1,285.9 494.2,285.6 495.2,284.9 496.3,284.5 497.3,283.0 498.4,285.2 499.4,286.7 500.5,285.5 501.5,283.6 502.5,284.3 503.6,286.2 504.6,285.2 505.7,283.7 506.7,284.3 507.8,284.9 508.8,282.5 509.9,281.0 510.9,279.2 511.9,277.9 513.0,278.4 514.0,278.5 515.1,279.5 516.1,278.0 517.2,277.2 518.2,275.2 519.3,274.6 520.3,272.5 521.3,274.3 522.4,275.2 523.4,276.3 524.5,275.0 525.5,275.1 526.6,275.1 527.6,275.2 528.6,275.8 529.7,275.2 530.7,275.6 531.8,276.0 532.8,275.8 533.9,275.7 534.9,275.6 536.0,276.1 537.0,276.5 538.0,277.1 539.1,277.9 540.1,277.8 541.2,278.6 542.2,279.9 543.3,281.8 544.3,282.7 545.4,283.8 546.4,285.1 547.4,286.0 548.5,285.3 549.5,284.3 550.6,283.5 551.6,284.0 552.7,283.8 553.7,284.5 554.8,282.7 555.8,281.3 556.8,283.1 557.9,282.8 558.9,282.2 560.0,282.5 561.0,281.8 562.1,281.8 563.1,282.5 564.1,282.6 565.2,282.6 566.2,282.6 567.3,282.9 568.3,282.1 569.4,281.7 570.4,281.1 571.5,279.8 572.5,279.5" stroke="#C8001A"/><polyline points="51.5,287.6 52.5,287.1 53.6,285.8 54.6,287.1 55.7,286.8 56.7,288.2 57.8,289.7 58.8,291.1 59.9,293.1 60.9,291.3 61.9,291.0 63.0,293.2 64.0,293.9 65.1,295.1 66.1,293.7 67.2,291.2 68.2,289.3 69.2,289.3 70.3,289.2 71.3,289.2 72.4,289.3 73.4,289.2 74.5,288.5 75.5,287.9 76.6,288.9 77.6,289.5 78.6,290.3 79.7,291.0 80.7,292.3 81.8,293.3 82.8,295.4 83.9,294.5 84.9,294.3 86.0,294.5 87.0,295.7 88.0,295.0 89.1,295.4 90.1,293.3 91.2,292.3 92.2,291.4 93.3,290.8 94.3,292.7 95.4,294.2 96.4,292.2 97.4,289.4 98.5,288.6 99.5,287.1 100.6,285.4 101.6,283.9 102.7,282.1 103.7,279.6 104.7,277.4 105.8,275.0 106.8,273.9 107.9,272.2 108.9,270.9 110.0,269.8 111.0,269.8 112.1,266.9 113.1,264.5 114.1,261.7 115.2,259.1 116.2,252.0 117.3,244.4 118.3,244.8 119.4,248.6 120.4,249.1 121.5,250.0 122.5,251.1 123.5,252.2 124.6,252.7 125.6,252.9 126.7,253.4 127.7,254.1 128.8,252.5 129.8,251.9 130.9,253.3 131.9,254.5 132.9,252.9 134.0,249.9 135.0,247.5 136.1,245.1 137.1,246.4 138.2,246.9 139.2,245.5 140.2,245.1 141.3,245.0 142.3,245.7 143.4,246.9 144.4,247.4 145.5,248.1 146.5,248.8 147.6,250.0 148.6,250.7 149.6,251.5 150.7,252.8 151.7,253.8 152.8,255.8 153.8,257.9 154.9,261.6 155.9,264.9 157.0,269.9 158.0,274.1 159.0,277.9 160.1,276.6 161.1,276.5 162.2,273.8 163.2,271.9 164.3,273.0 165.3,272.9 166.3,274.0 167.4,275.7 168.4,276.1 169.5,276.0 170.5,278.5 171.6,279.9 172.6,279.4 173.7,276.5 174.7,272.5 175.7,271.2 176.8,270.7 177.8,272.0 178.9,273.0 179.9,273.6 181.0,274.9 182.0,275.5 183.1,276.5 184.1,277.9 185.1,277.5 186.2,275.3 187.2,273.9 188.3,271.7 189.3,271.0 190.4,268.6 191.4,266.3 192.5,265.9 193.5,265.2 194.5,263.1 195.6,261.3 196.6,263.6 197.7,265.1 198.7,269.0 199.8,273.1 200.8,276.9 201.8,279.2 202.9,280.9 203.9,283.3 205.0,284.8 206.0,285.9 207.1,287.3 208.1,288.4 209.2,288.7 210.2,289.0 211.2,289.0 212.3,290.0 213.3,290.2 214.4,290.0 215.4,290.4 216.5,290.9 217.5,293.2 218.6,293.2 219.6,293.6 220.6,295.1 221.7,296.3 222.7,297.8 223.8,297.4 224.8,297.9 225.9,298.3 226.9,299.6 228.0,300.6 229.0,299.5 230.0,298.8 231.1,297.7 232.1,298.0 233.2,298.2 234.2,297.1 235.3,295.9 236.3,295.2 237.3,295.0 238.4,293.7 239.4,294.8 240.5,296.0 241.5,295.5 242.6,294.6 243.6,294.7 244.7,295.6 245.7,297.6 246.7,297.8 247.8,297.8 248.8,297.9 249.9,299.1 250.9,301.4 252.0,303.1 253.0,303.8 254.1,303.6 255.1,303.8 256.1,304.2 257.2,305.2 258.2,303.7 259.3,302.1 260.3,302.2 261.4,303.2 262.4,303.1 263.4,302.9 264.5,303.4 265.5,302.8 266.6,303.2 267.6,301.8 268.7,301.9 269.7,301.2 270.8,300.9 271.8,300.0 272.8,300.9 273.9,302.0 274.9,301.7 276.0,302.7 277.0,304.1 278.1,303.0 279.1,299.9 280.2,297.7 281.2,297.8 282.2,294.1 283.3,290.4 284.3,287.5 285.4,284.8 286.4,282.4 287.5,278.8 288.5,278.5 289.6,278.8 290.6,277.6 291.6,276.8 292.7,274.8 293.7,273.6 294.8,273.7 295.8,272.8 296.9,271.3 297.9,270.1 298.9,269.9 300.0,269.4 301.0,268.2 302.1,267.5 303.1,266.1 304.2,265.9 305.2,266.2 306.3,264.3 307.3,262.8 308.3,262.0 309.4,261.5 310.4,261.2 311.5,261.2 312.5,259.3 313.6,257.4 314.6,255.6 315.7,254.3 316.7,252.5 317.7,253.3 318.8,254.0 319.8,253.1 320.9,252.3 321.9,252.3 323.0,252.6 324.0,251.6 325.1,251.1 326.1,251.8 327.1,254.1 328.2,255.5 329.2,256.3 330.3,256.1 331.3,256.6 332.4,257.7 333.4,258.2 334.4,258.7 335.5,259.1 336.5,259.7 337.6,260.0 338.6,259.9 339.7,260.1 340.7,261.1 341.8,260.2 342.8,258.4 343.8,258.3 344.9,259.6 345.9,259.4 347.0,259.5 348.0,258.4 349.1,259.1 350.1,260.0 351.2,259.2 352.2,260.5 353.2,261.7 354.3,261.4 355.3,259.0 356.4,259.6 357.4,260.7 358.5,262.4 359.5,262.9 360.6,264.2 361.6,265.3 362.6,264.7 363.7,263.0 364.7,262.6 365.8,263.3 366.8,264.5 367.9,266.1 368.9,266.2 369.9,267.3 371.0,268.0 372.0,267.9 373.1,268.9 374.1,267.1 375.2,265.2 376.2,264.9 377.3,265.6 378.3,266.2 379.3,267.1 380.4,267.2 381.4,266.3 382.5,267.2 383.5,267.1 384.6,266.8 385.6,266.1 386.7,267.7 387.7,268.3 388.7,268.4 389.8,268.4 390.8,269.2 391.9,268.6 392.9,268.5 394.0,268.3 395.0,269.2 396.0,270.5 397.1,269.2 398.1,269.5 399.2,269.6 400.2,269.8 401.3,269.8 402.3,271.1 403.4,272.4 404.4,272.4 405.4,272.0 406.5,274.2 407.5,274.9 408.6,275.8 409.6,276.6 410.7,276.4 411.7,277.1 412.8,277.6 413.8,277.9 414.8,278.1 415.9,278.4 416.9,279.4 418.0,281.0 419.0,281.4 420.1,282.9 421.1,283.7 422.2,284.4 423.2,285.2 424.2,286.2 425.3,287.2 426.3,287.3 427.4,287.0 428.4,287.7 429.5,288.2 430.5,288.7 431.5,288.6 432.6,288.9 433.6,289.2 434.7,288.4 435.7,289.1 436.8,289.3 437.8,290.1 438.9,288.4 439.9,286.4 440.9,282.9 442.0,280.7 443.0,279.2 444.1,279.9 445.1,280.5 446.2,280.1 447.2,280.0 448.3,279.2 449.3,278.6 450.3,277.4 451.4,278.4 452.4,276.2 453.5,275.5 454.5,276.7 455.6,277.5 456.6,278.0 457.7,278.6 458.7,279.5 459.7,280.6 460.8,281.7 461.8,283.0 462.9,284.2 463.9,285.8 465.0,286.8 466.0,286.8 467.0,284.8 468.1,285.2 469.1,286.5 470.2,286.2 471.2,284.7 472.3,285.8 473.3,288.9 474.4,288.9 475.4,288.3 476.4,289.2 477.5,288.7 478.5,289.1 479.6,289.1 480.6,289.1 481.7,290.7 482.7,291.2 483.8,291.3 484.8,292.3 485.8,294.0 486.9,293.6 487.9,293.9 489.0,294.0 490.0,294.1 491.1,293.9 492.1,294.3 493.1,292.8 494.2,292.7 495.2,295.1 496.3,295.9 497.3,295.5 498.4,295.4 499.4,296.1 500.5,297.2 501.5,297.6 502.5,297.5 503.6,296.9 504.6,297.1 505.7,296.0 506.7,295.6 507.8,295.5 508.8,294.4 509.9,293.2 510.9,291.2 511.9,289.9 513.0,289.7 514.0,288.8 515.1,287.5 516.1,287.5 517.2,288.0 518.2,286.8 519.3,285.0 520.3,283.7 521.3,283.4 522.4,283.7 523.4,283.6 524.5,284.1 525.5,283.4 526.6,284.3 527.6,284.1 528.6,285.9 529.7,287.2 530.7,285.6 531.8,283.7 532.8,284.4 533.9,283.8 534.9,285.7 536.0,286.8 537.0,287.3 538.0,287.8 539.1,288.2 540.1,289.7 541.2,290.4 542.2,291.9 543.3,290.5 544.3,293.5 545.4,294.2 546.4,292.7 547.4,293.3 548.5,295.1 549.5,296.2 550.6,295.9 551.6,295.1 552.7,295.7 553.7,296.9 554.8,297.5 555.8,296.7 556.8,297.5 557.9,296.7 558.9,296.9 560.0,295.2 561.0,295.8 562.1,296.4 563.1,297.0 564.1,297.1 565.2,297.4 566.2,298.9 567.3,299.2 568.3,300.0 569.4,300.2 570.4,299.1 571.5,295.7 572.5,297.7" stroke="#141C7C"/><polyline points="51.5,270.9 52.5,274.1 53.6,277.2 54.6,276.9 55.7,278.4 56.7,279.4 57.8,280.7 58.8,280.5 59.9,281.2 60.9,280.8 61.9,280.7 63.0,280.5 64.0,279.8 65.1,279.2 66.1,279.5 67.2,281.3 68.2,280.7 69.2,279.6 70.3,281.2 71.3,280.3 72.4,280.4 73.4,279.1 74.5,280.1 75.5,280.4 76.6,280.8 77.6,281.1 78.6,281.2 79.7,282.3 80.7,284.9 81.8,287.0 82.8,289.2 83.9,290.4 84.9,291.5 86.0,292.8 87.0,294.3 88.0,293.2 89.1,292.9 90.1,291.6 91.2,291.0 92.2,291.3 93.3,292.3 94.3,292.0 95.4,292.3 96.4,292.0 97.4,291.3 98.5,292.0 99.5,291.9 100.6,291.3 101.6,289.0 102.7,288.2 103.7,287.0 104.7,286.6 105.8,285.4 106.8,281.9 107.9,279.2 108.9,276.7 110.0,274.8 111.0,271.2 112.1,269.6 113.1,266.8 114.1,262.3 115.2,255.8 116.2,251.3 117.3,247.7 118.3,247.1 119.4,245.7 120.4,246.3 121.5,247.8 122.5,247.2 123.5,247.4 124.6,248.1 125.6,248.2 126.7,248.7 127.7,249.5 128.8,250.8 129.8,251.5 130.9,251.7 131.9,252.0 132.9,253.1 134.0,254.4 135.0,253.7 136.1,254.2 137.1,255.2 138.2,255.3 139.2,256.2 140.2,256.4 141.3,256.1 142.3,255.9 143.4,255.7 144.4,257.8 145.5,259.1 146.5,258.0 147.6,256.5 148.6,258.3 149.6,259.1 150.7,260.2 151.7,260.4 152.8,263.2 153.8,266.0 154.9,268.4 155.9,269.4 157.0,269.0 158.0,271.1 159.0,273.4 160.1,275.4 161.1,274.3 162.2,273.5 163.2,272.2 164.3,271.8 165.3,271.6 166.3,272.9 167.4,274.4 168.4,275.5 169.5,276.7 170.5,277.2 171.6,278.1 172.6,279.7 173.7,283.1 174.7,284.0 175.7,283.9 176.8,284.9 177.8,284.7 178.9,281.5 179.9,280.6 181.0,280.1 182.0,280.7 183.1,280.7 184.1,281.7 185.1,280.5 186.2,280.3 187.2,280.2 188.3,279.1 189.3,280.5 190.4,281.7 191.4,280.6 192.5,280.4 193.5,278.3 194.5,277.9 195.6,277.4 196.6,277.4 197.7,278.0 198.7,279.7 199.8,281.1 200.8,281.6 201.8,282.1 202.9,282.6 203.9,283.7 205.0,284.5 206.0,284.2 207.1,282.6 208.1,283.0 209.2,285.8 210.2,285.0 211.2,284.5 212.3,283.9 213.3,284.3 214.4,283.6 215.4,285.2 216.5,286.5 217.5,288.1 218.6,289.1 219.6,289.4 220.6,289.1 221.7,288.4 222.7,289.6 223.8,291.1 224.8,292.1 225.9,292.1 226.9,290.7 228.0,291.0 229.0,290.7 230.0,290.5 231.1,288.5 232.1,287.5 233.2,287.8 234.2,287.2 235.3,285.4 236.3,284.4 237.3,283.4 238.4,284.7 239.4,285.4 240.5,284.1 241.5,282.7 242.6,282.8 243.6,284.0 244.7,285.3 245.7,285.8 246.7,285.0 247.8,285.5 248.8,286.5 249.9,287.8 250.9,287.2 252.0,287.8 253.0,286.9 254.1,287.3 255.1,288.5 256.1,288.2 257.2,289.1 258.2,289.4 259.3,290.0 260.3,288.8 261.4,287.4 262.4,288.1 263.4,287.5 264.5,286.3 265.5,286.4 266.6,287.7 267.6,288.6 268.7,288.5 269.7,288.1 270.8,288.0 271.8,289.2 272.8,289.5 273.9,288.9 274.9,289.7 276.0,288.4 277.0,287.7 278.1,287.0 279.1,287.2 280.2,284.4 281.2,282.1 282.2,281.0 283.3,278.4 284.3,276.9 285.4,275.0 286.4,273.9 287.5,273.5 288.5,271.1 289.6,269.5 290.6,269.0 291.6,269.4 292.7,269.0 293.7,269.0 294.8,268.6 295.8,269.1 296.9,268.7 297.9,267.1 298.9,265.8 300.0,265.5 301.0,267.3 302.1,265.1 303.1,263.4 304.2,261.2 305.2,259.8 306.3,258.6 307.3,258.6 308.3,258.6 309.4,257.8 310.4,256.3 311.5,256.2 312.5,255.3 313.6,253.8 314.6,252.0 315.7,250.3 316.7,251.5 317.7,252.2 318.8,251.0 319.8,250.6 320.9,250.6 321.9,251.4 323.0,251.8 324.0,252.2 325.1,253.2 326.1,253.0 327.1,254.6 328.2,254.7 329.2,254.1 330.3,254.7 331.3,256.3 332.4,256.6 333.4,256.3 334.4,256.1 335.5,255.7 336.5,257.4 337.6,258.5 338.6,258.8 339.7,257.5 340.7,258.4 341.8,258.1 342.8,259.4 343.8,259.6 344.9,259.9 345.9,259.4 347.0,259.4 348.0,259.2 349.1,258.7 350.1,258.2 351.2,257.3 352.2,258.1 353.2,257.8 354.3,258.2 355.3,257.5 356.4,257.9 357.4,258.8 358.5,259.8 359.5,259.2 360.6,258.1 361.6,258.5 362.6,259.0 363.7,258.9 364.7,259.5 365.8,259.5 366.8,259.4 367.9,260.5 368.9,260.1 369.9,260.8 371.0,262.3 372.0,263.0 373.1,262.8 374.1,262.8 375.2,262.4 376.2,260.7 377.3,260.8 378.3,260.8 379.3,260.4 380.4,260.2 381.4,261.0 382.5,261.3 383.5,260.9 384.6,262.7 385.6,263.2 386.7,262.9 387.7,262.5 388.7,263.3 389.8,263.6 390.8,263.3 391.9,263.2 392.9,264.0 394.0,264.1 395.0,264.5 396.0,264.2 397.1,265.3 398.1,265.6 399.2,265.8 400.2,266.1 401.3,265.5 402.3,265.8 403.4,264.8 404.4,265.5 405.4,265.5 406.5,266.6 407.5,267.8 408.6,267.9 409.6,267.8 410.7,267.7 411.7,268.9 412.8,269.8 413.8,271.2 414.8,272.2 415.9,272.6 416.9,273.0 418.0,274.1 419.0,276.7 420.1,277.7 421.1,278.1 422.2,278.3 423.2,279.9 424.2,280.5 425.3,281.4 426.3,282.0 427.4,282.7 428.4,283.5 429.5,284.4 430.5,285.2 431.5,284.4 432.6,285.3 433.6,285.4 434.7,286.0 435.7,286.6 436.8,286.5 437.8,286.1 438.9,284.5 439.9,283.6 440.9,284.8 442.0,284.6 443.0,283.2 444.1,282.9 445.1,282.7 446.2,281.3 447.2,280.3 448.3,280.9 449.3,282.3 450.3,283.8 451.4,285.0 452.4,285.2 453.5,285.9 454.5,286.5 455.6,288.2 456.6,289.2 457.7,290.0 458.7,290.0 459.7,289.8 460.8,288.9 461.8,289.1 462.9,289.9 463.9,290.5 465.0,289.4 466.0,288.9 467.0,289.2 468.1,288.6 469.1,288.2 470.2,288.5 471.2,287.3 472.3,288.7 473.3,289.2 474.4,290.2 475.4,290.7 476.4,292.0 477.5,292.1 478.5,293.2 479.6,294.0 480.6,293.8 481.7,293.9 482.7,295.3 483.8,296.5 484.8,296.8 485.8,296.7 486.9,296.8 487.9,296.7 489.0,296.3 490.0,297.1 491.1,298.3 492.1,298.2 493.1,297.9 494.2,297.3 495.2,296.0 496.3,295.8 497.3,295.5 498.4,295.5 499.4,295.8 500.5,294.9 501.5,295.0 502.5,297.0 503.6,299.3 504.6,299.0 505.7,297.4 506.7,295.5 507.8,294.8 508.8,295.3 509.9,294.3 510.9,293.3 511.9,292.9 513.0,291.9 514.0,291.1 515.1,290.0 516.1,288.4 517.2,285.9 518.2,286.0 519.3,286.1 520.3,285.9 521.3,283.5 522.4,284.1 523.4,284.7 524.5,284.9 525.5,286.1 526.6,285.2 527.6,284.6 528.6,285.2 529.7,286.3 530.7,286.9 531.8,287.2 532.8,286.5 533.9,286.4 534.9,287.2 536.0,288.3 537.0,289.5 538.0,289.5 539.1,290.1 540.1,291.1 541.2,292.4 542.2,292.7 543.3,292.3 544.3,293.5 545.4,294.9 546.4,295.9 547.4,296.0 548.5,297.4 549.5,298.2 550.6,298.1 551.6,297.8 552.7,296.1 553.7,296.6 554.8,297.5 555.8,298.1 556.8,299.8 557.9,299.5 558.9,298.5 560.0,297.8 561.0,300.9 562.1,300.3 563.1,298.6 564.1,298.3 565.2,298.4 566.2,299.8 567.3,300.1 568.3,300.7 569.4,301.3 570.4,300.3 571.5,298.4 572.5,299.3" stroke="#585858"/><polyline points="51.5,283.2 52.5,284.4 53.6,284.6 54.6,284.7 55.7,285.0 56.7,284.0 57.8,283.8 58.8,284.4 59.9,284.4 60.9,282.3 61.9,281.7 63.0,280.8 64.0,280.4 65.1,282.1 66.1,282.1 67.2,283.0 68.2,283.4 69.2,282.8 70.3,283.8 71.3,284.7 72.4,284.5 73.4,284.5 74.5,283.3 75.5,282.7 76.6,283.7 77.6,285.0 78.6,287.3 79.7,288.7 80.7,289.8 81.8,290.5 82.8,289.5 83.9,289.2 84.9,288.1 86.0,287.1 87.0,287.3 88.0,286.6 89.1,286.5 90.1,285.6 91.2,283.4 92.2,283.7 93.3,283.2 94.3,284.8 95.4,286.1 96.4,285.8 97.4,286.4 98.5,285.1 99.5,283.5 100.6,284.7 101.6,284.6 102.7,282.5 103.7,280.8 104.7,281.8 105.8,280.8 106.8,277.4 107.9,275.6 108.9,275.4 110.0,273.8 111.0,271.6 112.1,270.7 113.1,268.9 114.1,268.1 115.2,263.8 116.2,258.7 117.3,253.0 118.3,246.9 119.4,249.4 120.4,254.2 121.5,254.6 122.5,255.3 123.5,255.0 124.6,256.0 125.6,255.9 126.7,256.4 127.7,255.6 128.8,256.7 129.8,255.7 130.9,255.5 131.9,255.8 132.9,256.3 134.0,257.1 135.0,259.4 136.1,259.1 137.1,258.0 138.2,258.0 139.2,259.7 140.2,259.9 141.3,260.1 142.3,261.0 143.4,260.9 144.4,260.1 145.5,259.1 146.5,260.3 147.6,261.0 148.6,261.8 149.6,261.7 150.7,263.9 151.7,265.8 152.8,268.5 153.8,272.2 154.9,273.3 155.9,275.1 157.0,274.9 158.0,275.2 159.0,276.7 160.1,275.7 161.1,273.7 162.2,271.6 163.2,269.7 164.3,270.3 165.3,271.0 166.3,271.2 167.4,272.8 168.4,273.3 169.5,273.7 170.5,274.0 171.6,274.6 172.6,276.7 173.7,278.7 174.7,278.3 175.7,277.7 176.8,276.6 177.8,274.9 178.9,275.7 179.9,276.9 181.0,277.5 182.0,277.7 183.1,279.5 184.1,280.3 185.1,280.4 186.2,279.3 187.2,278.5 188.3,278.9 189.3,278.8 190.4,277.9 191.4,276.6 192.5,274.6 193.5,273.2 194.5,271.8 195.6,270.7 196.6,271.9 197.7,274.8 198.7,276.4 199.8,279.2 200.8,280.2 201.8,282.3 202.9,284.2 203.9,284.8 205.0,286.5 206.0,287.5 207.1,287.7 208.1,288.8 209.2,289.4 210.2,290.2 211.2,291.0 212.3,291.8 213.3,291.4 214.4,291.0 215.4,290.2 216.5,291.0 217.5,292.5 218.6,293.7 219.6,293.9 220.6,295.8 221.7,296.5 222.7,295.1 223.8,295.9 224.8,294.5 225.9,293.8 226.9,292.5 228.0,292.8 229.0,291.7 230.0,292.3 231.1,291.1 232.1,290.7 233.2,290.1 234.2,290.4 235.3,290.2 236.3,289.7 237.3,288.5 238.4,287.9 239.4,289.8 240.5,290.0 241.5,291.0 242.6,289.6 243.6,289.2 244.7,290.3 245.7,290.2 246.7,290.0 247.8,291.0 248.8,290.7 249.9,291.2 250.9,292.9 252.0,293.1 253.0,292.7 254.1,292.5 255.1,293.2 256.1,293.6 257.2,293.9 258.2,293.6 259.3,292.9 260.3,293.3 261.4,293.2 262.4,292.4 263.4,293.0 264.5,292.5 265.5,292.0 266.6,293.0 267.6,292.4 268.7,290.5 269.7,288.6 270.8,289.8 271.8,290.2 272.8,288.8 273.9,289.9 274.9,290.8 276.0,292.5 277.0,293.8 278.1,293.8 279.1,292.1 280.2,289.7 281.2,288.3 282.2,285.9 283.3,283.6 284.3,280.4 285.4,278.1 286.4,275.7 287.5,274.0 288.5,271.5 289.6,268.4 290.6,268.2 291.6,267.2 292.7,265.9 293.7,264.0 294.8,261.7 295.8,260.1 296.9,258.9 297.9,257.7 298.9,256.7 300.0,255.6 301.0,256.0 302.1,254.3 303.1,252.6 304.2,251.7 305.2,250.1 306.3,251.6 307.3,251.0 308.3,251.4 309.4,250.4 310.4,248.3 311.5,248.0 312.5,247.1 313.6,245.4 314.6,245.8 315.7,245.1 316.7,244.9 317.7,244.7 318.8,245.3 319.8,245.0 320.9,244.4 321.9,245.1 323.0,245.0 324.0,245.8 325.1,247.8 326.1,248.8 327.1,249.8 328.2,250.1 329.2,250.4 330.3,250.6 331.3,251.7 332.4,253.2 333.4,254.3 334.4,253.9 335.5,253.1 336.5,252.8 337.6,252.2 338.6,253.3 339.7,253.9 340.7,254.3 341.8,255.8 342.8,256.9 343.8,257.4 344.9,256.6 345.9,256.5 347.0,256.3 348.0,255.8 349.1,255.2 350.1,255.3 351.2,255.3 352.2,255.0 353.2,253.9 354.3,253.4 355.3,254.1 356.4,253.9 357.4,254.2 358.5,254.4 359.5,254.6 360.6,256.2 361.6,257.0 362.6,257.8 363.7,257.3 364.7,257.0 365.8,257.2 366.8,258.8 367.9,259.3 368.9,259.9 369.9,260.7 371.0,262.5 372.0,262.3 373.1,261.4 374.1,260.3 375.2,261.9 376.2,262.3 377.3,263.1 378.3,263.3 379.3,263.5 380.4,263.4 381.4,263.3 382.5,263.4 383.5,264.6 384.6,264.0 385.6,264.0 386.7,263.2 387.7,263.7 388.7,263.7 389.8,264.7 390.8,265.6 391.9,266.2 392.9,265.4 394.0,266.5 395.0,265.6 396.0,265.9 397.1,266.2 398.1,267.2 399.2,267.1 400.2,267.9 401.3,268.3 402.3,269.1 403.4,268.2 404.4,268.1 405.4,270.7 406.5,270.4 407.5,272.0 408.6,272.2 409.6,272.0 410.7,273.8 411.7,274.5 412.8,275.7 413.8,276.9 414.8,276.9 415.9,277.1 416.9,278.5 418.0,279.8 419.0,280.5 420.1,281.6 421.1,282.5 422.2,284.2 423.2,284.9 424.2,285.7 425.3,285.6 426.3,284.6 427.4,284.5 428.4,287.0 429.5,289.4 430.5,290.1 431.5,290.3 432.6,290.1 433.6,290.6 434.7,290.4 435.7,291.2 436.8,291.0 437.8,290.1 438.9,291.0 439.9,290.7 440.9,289.2 442.0,288.9 443.0,290.7 444.1,291.0 445.1,290.7 446.2,289.1 447.2,286.8 448.3,286.5 449.3,286.4 450.3,288.2 451.4,290.8 452.4,290.5 453.5,291.0 454.5,291.4 455.6,292.1 456.6,291.4 457.7,291.8 458.7,292.2 459.7,293.4 460.8,291.7 461.8,291.6 462.9,293.0 463.9,292.8 465.0,291.3 466.0,291.5 467.0,292.9 468.1,293.8 469.1,293.6 470.2,292.3 471.2,290.6 472.3,290.4 473.3,293.0 474.4,292.2 475.4,291.9 476.4,293.4 477.5,294.9 478.5,295.7 479.6,295.4 480.6,296.0 481.7,297.1 482.7,297.8 483.8,298.1 484.8,298.2 485.8,298.8 486.9,299.7 487.9,301.6 489.0,300.8 490.0,300.6 491.1,301.3 492.1,302.2 493.1,302.0 494.2,301.6 495.2,300.5 496.3,300.5 497.3,300.2 498.4,299.5 499.4,298.8 500.5,299.9 501.5,302.3 502.5,301.3 503.6,301.2 504.6,301.6 505.7,302.0 506.7,302.0 507.8,301.6 508.8,300.0 509.9,297.9 510.9,296.3 511.9,295.0 513.0,294.5 514.0,293.9 515.1,293.8 516.1,291.7 517.2,290.7 518.2,290.4 519.3,290.1 520.3,289.0 521.3,289.2 522.4,288.3 523.4,287.2 524.5,286.2 525.5,285.5 526.6,287.3 527.6,288.4 528.6,290.0 529.7,291.2 530.7,290.7 531.8,289.6 532.8,290.3 533.9,289.5 534.9,290.5 536.0,290.7 537.0,289.5 538.0,290.8 539.1,292.4 540.1,294.4 541.2,295.4 542.2,296.6 543.3,296.2 544.3,297.2 545.4,298.1 546.4,298.6 547.4,299.8 548.5,300.8 549.5,300.7 550.6,300.4 551.6,299.7 552.7,300.3 553.7,301.3 554.8,301.6 555.8,301.2 556.8,302.9 557.9,302.8 558.9,302.9 560.0,302.5 561.0,301.5 562.1,300.7 563.1,299.9 564.1,302.2 565.2,302.7 566.2,302.5 567.3,301.2 568.3,300.6 569.4,299.6 570.4,301.7 571.5,301.9 572.5,302.4" stroke="#8DB6E2"/><polyline points="51.5,287.9 52.5,288.6 53.6,289.9 54.6,292.1 55.7,293.4 56.7,295.1 57.8,295.7 58.8,296.3 59.9,297.5 60.9,297.5 61.9,298.8 63.0,298.2 64.0,298.8 65.1,300.4 66.1,301.5 67.2,301.5 68.2,302.4 69.2,303.4 70.3,302.6 71.3,301.2 72.4,300.8 73.4,302.5 74.5,302.8 75.5,303.6 76.6,302.6 77.6,302.5 78.6,303.3 79.7,303.3 80.7,303.7 81.8,305.8 82.8,305.5 83.9,305.6 84.9,307.2 86.0,306.8 87.0,308.8 88.0,308.6 89.1,309.0 90.1,309.1 91.2,306.8 92.2,306.9 93.3,307.1 94.3,306.2 95.4,304.9 96.4,305.3 97.4,304.0 98.5,303.3 99.5,300.9 100.6,301.6 101.6,300.9 102.7,300.9 103.7,300.5 104.7,297.6 105.8,295.6 106.8,293.0 107.9,291.2 108.9,288.0 110.0,285.2 111.0,281.9 112.1,279.4 113.1,275.9 114.1,272.8 115.2,269.0 116.2,265.2 117.3,262.1 118.3,263.7 119.4,264.8 120.4,263.9 121.5,263.7 122.5,266.3 123.5,269.5 124.6,269.8 125.6,269.5 126.7,269.1 127.7,268.9 128.8,269.4 129.8,270.4 130.9,273.0 131.9,275.0 132.9,275.6 134.0,275.5 135.0,277.2 136.1,277.9 137.1,279.1 138.2,279.6 139.2,280.2 140.2,280.8 141.3,279.3 142.3,279.5 143.4,279.4 144.4,279.1 145.5,279.9 146.5,280.3 147.6,281.0 148.6,282.8 149.6,283.8 150.7,285.7 151.7,287.6 152.8,290.1 153.8,290.7 154.9,290.3 155.9,290.6 157.0,293.0 158.0,295.3 159.0,298.2 160.1,300.1 161.1,298.5 162.2,297.6 163.2,294.4 164.3,293.3 165.3,292.2 166.3,292.8 167.4,295.6 168.4,296.2 169.5,295.2 170.5,298.9 171.6,302.0 172.6,304.0 173.7,306.5 174.7,304.1 175.7,302.4 176.8,300.2 177.8,298.7 178.9,299.4 179.9,298.4 181.0,295.3 182.0,295.5 183.1,297.3 184.1,299.0 185.1,298.1 186.2,299.1 187.2,300.6 188.3,299.1 189.3,296.3 190.4,293.8 191.4,290.4 192.5,290.2 193.5,289.1 194.5,288.0 195.6,287.5 196.6,288.4 197.7,288.6 198.7,290.9 199.8,291.9 200.8,293.6 201.8,295.0 202.9,297.7 203.9,299.0 205.0,298.7 206.0,298.4 207.1,300.9 208.1,302.1 209.2,301.7 210.2,300.7 211.2,299.5 212.3,300.6 213.3,300.8 214.4,301.9 215.4,303.6 216.5,303.2 217.5,303.4 218.6,304.3 219.6,304.3 220.6,305.5 221.7,305.7 222.7,306.2 223.8,306.5 224.8,307.8 225.9,308.8 226.9,307.9 228.0,307.5 229.0,305.4 230.0,305.4 231.1,306.6 232.1,306.4 233.2,307.9 234.2,307.1 235.3,305.6 236.3,306.6 237.3,307.6 238.4,307.0 239.4,308.7 240.5,307.8 241.5,306.8 242.6,306.8 243.6,306.6 244.7,306.4 245.7,307.5 246.7,306.9 247.8,308.4 248.8,309.5 249.9,309.2 250.9,309.2 252.0,309.8 253.0,311.3 254.1,311.0 255.1,310.7 256.1,310.9 257.2,310.3 258.2,310.5 259.3,309.9 260.3,310.3 261.4,310.2 262.4,310.7 263.4,310.6 264.5,310.4 265.5,309.9 266.6,310.3 267.6,310.2 268.7,310.4 269.7,309.9 270.8,309.8 271.8,309.4 272.8,308.9 273.9,309.1 274.9,308.7 276.0,309.3 277.0,310.8 278.1,310.0 279.1,307.4 280.2,306.1 281.2,305.1 282.2,301.8 283.3,299.0 284.3,296.2 285.4,293.6 286.4,290.5 287.5,288.3 288.5,286.9 289.6,285.7 290.6,284.8 291.6,282.5 292.7,282.4 293.7,283.7 294.8,286.1 295.8,287.4 296.9,286.1 297.9,284.6 298.9,283.2 300.0,282.1 301.0,284.9 302.1,285.3 303.1,286.0 304.2,285.9 305.2,285.1 306.3,283.1 307.3,282.1 308.3,280.4 309.4,279.2 310.4,280.1 311.5,281.3 312.5,281.0 313.6,281.5 314.6,281.0 315.7,278.7 316.7,275.8 317.7,275.7 318.8,277.8 319.8,280.4 320.9,282.0 321.9,282.2 323.0,281.8 324.0,281.8 325.1,283.0 326.1,285.7 327.1,286.8 328.2,289.6 329.2,290.9 330.3,290.7 331.3,289.6 332.4,288.2 333.4,289.2 334.4,288.2 335.5,288.5 336.5,289.7 337.6,290.9 338.6,290.9 339.7,290.4 340.7,291.5 341.8,294.0 342.8,294.0 343.8,296.1 344.9,296.6 345.9,298.1 347.0,297.0 348.0,297.4 349.1,296.7 350.1,296.4 351.2,295.4 352.2,293.8 353.2,293.4 354.3,292.9 355.3,292.2 356.4,293.1 357.4,293.8 358.5,293.6 359.5,293.1 360.6,293.6 361.6,295.2 362.6,295.0 363.7,295.2 364.7,295.1 365.8,295.6 366.8,297.9 367.9,299.6 368.9,301.0 369.9,300.6 371.0,301.0 372.0,301.5 373.1,301.2 374.1,299.7 375.2,298.5 376.2,298.4 377.3,300.3 378.3,300.1 379.3,299.3 380.4,299.8 381.4,301.1 382.5,301.4 383.5,301.2 384.6,302.1 385.6,302.7 386.7,301.2 387.7,299.9 388.7,299.9 389.8,301.2 390.8,301.4 391.9,301.4 392.9,301.9 394.0,301.5 395.0,300.9 396.0,301.4 397.1,301.4 398.1,302.0 399.2,302.4 400.2,302.0 401.3,302.1 402.3,302.7 403.4,304.3 404.4,304.1 405.4,304.1 406.5,304.4 407.5,305.5 408.6,305.4 409.6,305.6 410.7,305.0 411.7,305.7 412.8,307.6 413.8,307.8 414.8,307.0 415.9,306.7 416.9,307.1 418.0,307.2 419.0,309.1 420.1,307.9 421.1,308.2 422.2,308.3 423.2,308.7 424.2,309.2 425.3,310.1 426.3,311.0 427.4,311.4 428.4,311.7 429.5,311.3 430.5,312.5 431.5,312.8 432.6,311.1 433.6,309.3 434.7,310.0 435.7,310.5 436.8,310.8 437.8,309.8 438.9,310.7 439.9,309.3 440.9,308.8 442.0,307.3 443.0,308.7 444.1,308.4 445.1,306.1 446.2,306.0 447.2,307.4 448.3,307.3 449.3,307.4 450.3,307.4 451.4,307.7 452.4,307.2 453.5,308.5 454.5,308.6 455.6,308.4 456.6,308.6 457.7,309.5 458.7,308.3 459.7,307.5 460.8,308.2 461.8,309.5 462.9,311.6 463.9,313.4 465.0,312.7 466.0,313.1 467.0,312.0 468.1,312.4 469.1,310.4 470.2,310.0 471.2,308.9 472.3,308.1 473.3,305.9 474.4,305.7 475.4,306.6 476.4,308.8 477.5,310.0 478.5,310.1 479.6,309.1 480.6,309.2 481.7,309.6 482.7,310.5 483.8,311.0 484.8,312.5 485.8,311.6 486.9,311.8 487.9,312.1 489.0,313.4 490.0,312.4 491.1,312.6 492.1,312.4 493.1,311.5 494.2,311.1 495.2,311.0 496.3,310.9 497.3,310.5 498.4,311.0 499.4,312.0 500.5,310.7 501.5,310.0 502.5,309.1 503.6,308.2 504.6,309.2 505.7,308.7 506.7,308.4 507.8,307.1 508.8,307.4 509.9,306.3 510.9,305.6 511.9,304.7 513.0,303.5 514.0,301.9 515.1,301.7 516.1,299.5 517.2,298.1 518.2,297.4 519.3,300.2 520.3,299.4 521.3,298.3 522.4,299.2 523.4,299.4 524.5,299.8 525.5,299.3 526.6,298.6 527.6,298.5 528.6,299.6 529.7,301.4 530.7,301.1 531.8,300.4 532.8,299.9 533.9,299.6 534.9,301.4 536.0,300.9 537.0,298.9 538.0,300.0 539.1,301.5 540.1,303.1 541.2,303.2 542.2,303.4 543.3,305.6 544.3,305.0 545.4,303.3 546.4,303.9 547.4,305.5 548.5,305.7 549.5,306.2 550.6,306.1 551.6,306.8 552.7,306.5 553.7,306.1 554.8,307.0 555.8,307.7 556.8,306.8 557.9,306.9 558.9,305.3 560.0,305.5 561.0,305.8 562.1,305.5 563.1,306.7 564.1,305.9 565.2,306.4 566.2,305.8 567.3,304.4 568.3,303.8 569.4,303.9 570.4,303.1 571.5,302.6 572.5,303.2" stroke="#B8B8B8"/><polyline points="51.5,289.7 52.5,290.5 53.6,291.8 54.6,293.0 55.7,294.2 56.7,294.6 57.8,296.0 58.8,296.0 59.9,296.3 60.9,296.1 61.9,296.4 63.0,297.2 64.0,297.9 65.1,299.3 66.1,299.5 67.2,299.7 68.2,298.8 69.2,299.1 70.3,299.1 71.3,298.8 72.4,298.1 73.4,297.1 74.5,297.6 75.5,298.4 76.6,297.9 77.6,298.9 78.6,299.4 79.7,300.6 80.7,301.7 81.8,303.0 82.8,302.7 83.9,303.2 84.9,304.7 86.0,306.5 87.0,308.6 88.0,308.6 89.1,307.8 90.1,306.4 91.2,306.9 92.2,304.7 93.3,301.7 94.3,299.2 95.4,298.3 96.4,296.6 97.4,295.1 98.5,294.5 99.5,295.3 100.6,294.9 101.6,294.1 102.7,294.6 103.7,293.6 104.7,292.4 105.8,290.3 106.8,288.5 107.9,287.1 108.9,286.8 110.0,285.5 111.0,282.6 112.1,280.5 113.1,278.0 114.1,276.2 115.2,271.2 116.2,265.6 117.3,259.7 118.3,258.0 119.4,257.0 120.4,258.2 121.5,259.5 122.5,259.3 123.5,259.6 124.6,260.6 125.6,262.2 126.7,262.3 127.7,262.9 128.8,262.8 129.8,263.2 130.9,263.9 131.9,265.8 132.9,265.8 134.0,267.6 135.0,268.7 136.1,269.4 137.1,269.8 138.2,270.5 139.2,271.1 140.2,272.4 141.3,271.3 142.3,270.3 143.4,268.6 144.4,268.8 145.5,269.5 146.5,270.4 147.6,273.2 148.6,275.6 149.6,277.3 150.7,279.3 151.7,279.8 152.8,282.2 153.8,283.8 154.9,285.4 155.9,286.6 157.0,287.6 158.0,288.4 159.0,288.6 160.1,289.8 161.1,289.6 162.2,289.3 163.2,287.7 164.3,287.4 165.3,287.2 166.3,289.0 167.4,289.7 168.4,291.3 169.5,292.4 170.5,293.2 171.6,293.3 172.6,295.2 173.7,296.3 174.7,296.3 175.7,294.5 176.8,294.2 177.8,294.3 178.9,296.2 179.9,296.3 181.0,295.2 182.0,295.0 183.1,295.2 184.1,295.6 185.1,296.2 186.2,296.2 187.2,297.5 188.3,296.6 189.3,295.2 190.4,295.2 191.4,294.4 192.5,292.3 193.5,289.6 194.5,287.9 195.6,286.2 196.6,286.3 197.7,286.6 198.7,286.6 199.8,287.4 200.8,288.0 201.8,288.8 202.9,288.7 203.9,290.2 205.0,291.3 206.0,293.1 207.1,292.3 208.1,293.4 209.2,295.1 210.2,296.0 211.2,296.6 212.3,297.3 213.3,298.3 214.4,298.4 215.4,299.5 216.5,298.9 217.5,298.1 218.6,298.7 219.6,299.6 220.6,300.5 221.7,301.2 222.7,302.4 223.8,304.0 224.8,304.8 225.9,303.9 226.9,303.1 228.0,303.6 229.0,304.9 230.0,305.0 231.1,303.2 232.1,302.5 233.2,302.8 234.2,302.7 235.3,302.5 236.3,301.8 237.3,301.2 238.4,301.9 239.4,303.1 240.5,302.3 241.5,303.6 242.6,302.1 243.6,301.0 244.7,303.0 245.7,303.4 246.7,303.2 247.8,304.3 248.8,304.0 249.9,304.6 250.9,305.7 252.0,305.2 253.0,304.6 254.1,304.4 255.1,304.9 256.1,306.2 257.2,307.2 258.2,307.4 259.3,307.3 260.3,307.3 261.4,306.2 262.4,305.4 263.4,304.1 264.5,305.0 265.5,305.2 266.6,306.5 267.6,307.0 268.7,305.8 269.7,303.8 270.8,304.5 271.8,305.0 272.8,304.7 273.9,305.2 274.9,306.2 276.0,305.7 277.0,306.0 278.1,304.4 279.1,301.2 280.2,301.1 281.2,300.0 282.2,297.8 283.3,294.7 284.3,293.7 285.4,293.3 286.4,290.5 287.5,286.9 288.5,286.8 289.6,284.7 290.6,281.9 291.6,277.6 292.7,275.5 293.7,272.7 294.8,272.3 295.8,272.2 296.9,271.4 297.9,270.1 298.9,269.0 300.0,267.4 301.0,266.0 302.1,264.4 303.1,265.4 304.2,264.5 305.2,263.3 306.3,261.6 307.3,260.3 308.3,260.5 309.4,260.0 310.4,259.7 311.5,258.9 312.5,257.5 313.6,257.2 314.6,257.8 315.7,257.6 316.7,257.6 317.7,256.9 318.8,256.2 319.8,256.5 320.9,257.5 321.9,257.6 323.0,256.9 324.0,257.0 325.1,257.8 326.1,258.3 327.1,260.5 328.2,261.7 329.2,263.6 330.3,264.6 331.3,265.0 332.4,265.1 333.4,264.4 334.4,264.4 335.5,263.6 336.5,265.7 337.6,265.4 338.6,266.1 339.7,265.3 340.7,265.1 341.8,265.1 342.8,266.5 343.8,267.4 344.9,268.8 345.9,268.9 347.0,269.7 348.0,269.5 349.1,268.7 350.1,268.2 351.2,267.3 352.2,265.8 353.2,264.5 354.3,265.0 355.3,266.0 356.4,265.3 357.4,264.0 358.5,264.0 359.5,265.2 360.6,267.5 361.6,269.3 362.6,267.7 363.7,268.0 364.7,268.6 365.8,269.5 366.8,269.7 367.9,270.7 368.9,273.0 369.9,273.6 371.0,272.6 372.0,272.7 373.1,274.0 374.1,273.8 375.2,274.1 376.2,273.2 377.3,272.8 378.3,272.5 379.3,271.8 380.4,270.9 381.4,269.7 382.5,269.6 383.5,269.7 384.6,268.0 385.6,267.5 386.7,269.1 387.7,269.4 388.7,268.4 389.8,268.2 390.8,266.7 391.9,266.5 392.9,267.5 394.0,267.8 395.0,269.2 396.0,269.3 397.1,270.1 398.1,270.3 399.2,271.0 400.2,271.9 401.3,274.4 402.3,274.9 403.4,275.4 404.4,275.4 405.4,275.4 406.5,276.7 407.5,277.7 408.6,278.7 409.6,279.7 410.7,279.8 411.7,279.7 412.8,280.5 413.8,281.0 414.8,283.7 415.9,289.8 416.9,293.1 418.0,293.3 419.0,295.2 420.1,296.3 421.1,297.5 422.2,297.9 423.2,298.2 424.2,299.4 425.3,299.5 426.3,299.4 427.4,300.9 428.4,301.4 429.5,302.5 430.5,302.5 431.5,302.2 432.6,304.2 433.6,305.7 434.7,305.2 435.7,305.4 436.8,303.8 437.8,303.9 438.9,304.1 439.9,304.1 440.9,303.8 442.0,303.3 443.0,300.6 444.1,300.3 445.1,299.9 446.2,298.9 447.2,296.3 448.3,296.2 449.3,296.7 450.3,295.2 451.4,294.3 452.4,294.6 453.5,294.8 454.5,294.9 455.6,294.0 456.6,294.1 457.7,294.1 458.7,295.8 459.7,296.2 460.8,295.6 461.8,295.9 462.9,297.9 463.9,299.3 465.0,300.9 466.0,300.3 467.0,300.5 468.1,299.6 469.1,301.1 470.2,300.3 471.2,300.5 472.3,300.4 473.3,300.2 474.4,300.3 475.4,299.4 476.4,299.9 477.5,302.4 478.5,302.5 479.6,301.7 480.6,303.8 481.7,304.4 482.7,303.4 483.8,304.1 484.8,303.5 485.8,304.5 486.9,305.0 487.9,305.4 489.0,305.6 490.0,305.8 491.1,305.1 492.1,305.2 493.1,306.1 494.2,307.2 495.2,307.6 496.3,306.9 497.3,306.6 498.4,304.9 499.4,305.1 500.5,305.0 501.5,306.3 502.5,304.4 503.6,303.9 504.6,307.3 505.7,308.2 506.7,306.2 507.8,304.5 508.8,304.2 509.9,303.6 510.9,302.9 511.9,301.7 513.0,300.3 514.0,298.3 515.1,296.7 516.1,296.6 517.2,296.0 518.2,296.4 519.3,297.2 520.3,295.9 521.3,293.6 522.4,293.5 523.4,294.0 524.5,295.1 525.5,296.9 526.6,295.9 527.6,295.2 528.6,295.0 529.7,294.7 530.7,296.3 531.8,296.0 532.8,296.3 533.9,296.4 534.9,295.6 536.0,295.1 537.0,295.9 538.0,296.6 539.1,296.8 540.1,297.4 541.2,298.8 542.2,299.6 543.3,301.2 544.3,301.6 545.4,302.0 546.4,303.1 547.4,305.1 548.5,306.6 549.5,307.1 550.6,307.5 551.6,306.4 552.7,306.3 553.7,306.9 554.8,308.5 555.8,308.6 556.8,308.3 557.9,307.1 558.9,308.0 560.0,307.7 561.0,307.8 562.1,309.3 563.1,309.0 564.1,309.9 565.2,311.0 566.2,310.4 567.3,308.6 568.3,308.0 569.4,309.7 570.4,310.6 571.5,311.9 572.5,311.2" stroke="#CCDDEF"/><polyline points="51.5,298.7 52.5,301.0 53.6,302.0 54.6,302.4 55.7,303.4 56.7,304.4 57.8,305.6 58.8,305.9 59.9,306.7 60.9,308.0 61.9,308.7 63.0,307.6 64.0,305.9 65.1,306.9 66.1,306.4 67.2,307.4 68.2,306.6 69.2,307.2 70.3,304.8 71.3,303.1 72.4,304.4 73.4,305.2 74.5,302.8 75.5,301.9 76.6,303.5 77.6,306.2 78.6,308.5 79.7,311.3 80.7,311.8 81.8,312.4 82.8,313.3 83.9,315.3 84.9,316.2 86.0,316.1 87.0,314.3 88.0,313.9 89.1,313.7 90.1,312.9 91.2,312.8 92.2,312.4 93.3,310.5 94.3,307.6 95.4,305.9 96.4,304.8 97.4,303.3 98.5,302.1 99.5,302.0 100.6,301.7 101.6,301.3 102.7,299.5 103.7,298.8 104.7,296.6 105.8,295.1 106.8,294.8 107.9,293.4 108.9,290.2 110.0,288.3 111.0,287.8 112.1,285.8 113.1,282.7 114.1,280.6 115.2,277.3 116.2,272.7 117.3,269.3 118.3,264.2 119.4,266.2 120.4,270.2 121.5,273.4 122.5,274.6 123.5,275.4 124.6,274.2 125.6,272.5 126.7,273.8 127.7,274.9 128.8,274.3 129.8,274.1 130.9,274.3 131.9,276.1 132.9,278.8 134.0,280.2 135.0,280.9 136.1,282.1 137.1,283.6 138.2,285.0 139.2,286.8 140.2,287.4 141.3,287.5 142.3,286.5 143.4,283.5 144.4,282.3 145.5,281.3 146.5,282.3 147.6,282.1 148.6,283.5 149.6,284.5 150.7,288.2 151.7,289.8 152.8,292.5 153.8,294.5 154.9,297.6 155.9,297.2 157.0,298.8 158.0,299.4 159.0,302.4 160.1,305.3 161.1,302.0 162.2,300.5 163.2,299.6 164.3,299.1 165.3,296.6 166.3,298.1 167.4,299.1 168.4,299.5 169.5,300.8 170.5,302.6 171.6,305.3 172.6,306.6 173.7,308.8 174.7,309.5 175.7,308.9 176.8,305.9 177.8,303.4 178.9,300.2 179.9,299.8 181.0,300.3 182.0,300.3 183.1,299.8 184.1,301.7 185.1,304.2 186.2,303.9 187.2,302.7 188.3,300.1 189.3,296.5 190.4,296.1 191.4,295.4 192.5,293.7 193.5,292.5 194.5,289.6 195.6,289.3 196.6,291.0 197.7,291.9 198.7,293.1 199.8,294.4 200.8,295.1 201.8,297.6 202.9,299.1 203.9,300.0 205.0,302.3 206.0,302.7 207.1,303.2 208.1,304.4 209.2,304.3 210.2,305.3 211.2,303.6 212.3,304.4 213.3,306.0 214.4,307.7 215.4,308.7 216.5,308.9 217.5,309.2 218.6,310.0 219.6,311.9 220.6,313.1 221.7,313.6 222.7,316.3 223.8,317.8 224.8,317.9 225.9,316.2 226.9,315.1 228.0,314.8 229.0,314.1 230.0,312.7 231.1,309.9 232.1,311.6 233.2,313.7 234.2,312.9 235.3,311.3 236.3,309.2 237.3,308.9 238.4,307.4 239.4,306.2 240.5,307.1 241.5,309.5 242.6,308.6 243.6,308.9 244.7,309.2 245.7,309.2 246.7,310.3 247.8,310.4 248.8,313.0 249.9,313.5 250.9,313.6 252.0,313.4 253.0,314.9 254.1,314.2 255.1,314.0 256.1,314.4 257.2,315.3 258.2,314.2 259.3,313.3 260.3,313.2 261.4,313.9 262.4,313.0 263.4,312.6 264.5,311.6 265.5,312.6 266.6,312.3 267.6,312.9 268.7,312.6 269.7,311.6 270.8,312.7 271.8,312.9 272.8,311.2 273.9,310.8 274.9,311.3 276.0,312.3 277.0,312.1 278.1,310.9 279.1,310.1 280.2,309.1 281.2,308.1 282.2,306.3 283.3,304.1 284.3,300.3 285.4,296.4 286.4,292.4 287.5,289.1 288.5,287.2 289.6,285.3 290.6,285.2 291.6,286.1 292.7,286.4 293.7,286.4 294.8,288.1 295.8,290.0 296.9,289.2 297.9,287.5 298.9,287.1 300.0,286.6 301.0,284.9 302.1,285.9 303.1,286.1 304.2,289.0 305.2,289.5 306.3,288.1 307.3,285.5 308.3,284.4 309.4,283.8 310.4,282.9 311.5,282.3 312.5,283.4 313.6,284.7 314.6,284.0 315.7,282.7 316.7,280.1 317.7,278.5 318.8,281.7 319.8,283.4 320.9,284.3 321.9,284.9 323.0,286.2 324.0,285.9 325.1,284.7 326.1,287.2 327.1,291.1 328.2,293.5 329.2,294.3 330.3,294.8 331.3,293.1 332.4,291.4 333.4,290.2 334.4,291.1 335.5,291.5 336.5,293.5 337.6,293.7 338.6,293.6 339.7,294.2 340.7,294.5 341.8,296.0 342.8,298.6 343.8,299.6 344.9,300.0 345.9,299.6 347.0,300.0 348.0,300.0 349.1,300.6 350.1,299.9 351.2,299.8 352.2,298.3 353.2,297.8 354.3,297.8 355.3,298.0 356.4,297.9 357.4,298.1 358.5,298.6 359.5,297.5 360.6,297.9 361.6,299.0 362.6,298.9 363.7,299.2 364.7,299.6 365.8,300.0 366.8,302.2 367.9,301.8 368.9,303.0 369.9,302.4 371.0,303.5 372.0,304.4 373.1,305.2 374.1,304.5 375.2,303.4 376.2,304.1 377.3,304.0 378.3,304.2 379.3,304.4 380.4,304.4 381.4,303.6 382.5,302.6 383.5,301.2 384.6,303.9 385.6,305.4 386.7,303.3 387.7,302.2 388.7,303.8 389.8,305.4 390.8,306.1 391.9,306.1 392.9,305.2 394.0,305.3 395.0,304.1 396.0,304.4 397.1,304.9 398.1,305.6 399.2,305.6 400.2,306.8 401.3,306.5 402.3,305.9 403.4,305.3 404.4,306.9 405.4,309.0 406.5,310.0 407.5,310.4 408.6,310.7 409.6,309.6 410.7,309.9 411.7,310.7 412.8,310.3 413.8,311.2 414.8,312.9 415.9,313.3 416.9,311.1 418.0,311.4 419.0,312.1 420.1,312.2 421.1,312.5 422.2,313.7 423.2,314.6 424.2,316.6 425.3,317.3 426.3,317.4 427.4,316.5 428.4,315.8 429.5,316.0 430.5,315.4 431.5,315.4 432.6,315.3 433.6,314.4 434.7,314.8 435.7,314.8 436.8,314.4 437.8,314.2 438.9,312.8 439.9,312.8 440.9,311.9 442.0,311.2 443.0,310.4 444.1,309.6 445.1,310.2 446.2,308.9 447.2,306.5 448.3,305.7 449.3,304.0 450.3,304.8 451.4,306.8 452.4,306.5 453.5,305.9 454.5,306.6 455.6,308.6 456.6,309.9 457.7,310.8 458.7,310.2 459.7,310.4 460.8,313.2 461.8,314.3 462.9,316.0 463.9,316.1 465.0,316.1 466.0,315.5 467.0,315.1 468.1,315.5 469.1,314.6 470.2,314.3 471.2,312.6 472.3,311.1 473.3,310.0 474.4,310.2 475.4,312.3 476.4,312.5 477.5,312.3 478.5,313.3 479.6,314.5 480.6,315.0 481.7,314.5 482.7,315.6 483.8,316.4 484.8,317.3 485.8,317.3 486.9,319.0 487.9,318.6 489.0,319.2 490.0,319.8 491.1,320.3 492.1,319.9 493.1,319.0 494.2,318.2 495.2,318.0 496.3,317.1 497.3,317.4 498.4,317.6 499.4,317.6 500.5,318.0 501.5,317.9 502.5,318.4 503.6,319.0 504.6,317.0 505.7,315.1 506.7,314.4 507.8,314.5 508.8,313.6 509.9,312.4 510.9,312.3 511.9,311.9 513.0,310.1 514.0,309.1 515.1,307.5 516.1,307.0 517.2,307.7 518.2,307.4 519.3,305.6 520.3,305.6 521.3,304.2 522.4,303.8 523.4,302.7 524.5,304.3 525.5,306.3 526.6,306.9 527.6,307.0 528.6,306.1 529.7,305.1 530.7,304.1 531.8,303.8 532.8,304.6 533.9,305.1 534.9,306.8 536.0,308.0 537.0,307.9 538.0,308.4 539.1,309.2 540.1,310.2 541.2,310.1 542.2,310.9 543.3,311.1 544.3,311.9 545.4,313.2 546.4,313.8 547.4,313.9 548.5,314.7 549.5,315.2 550.6,314.0 551.6,313.8 552.7,313.8 553.7,312.9 554.8,314.6 555.8,315.4 556.8,314.0 557.9,312.7 558.9,312.9 560.0,313.3 561.0,313.4 562.1,313.9 563.1,314.6 564.1,315.4 565.2,316.4 566.2,315.5 567.3,314.3 568.3,315.0 569.4,316.7 570.4,316.8 571.5,317.4 572.5,317.5" stroke="#D8969A"/>
</g>
<g stroke-width="3" stroke-linecap="butt">
<line x1="579.8" y1="110.6" x2="609.5" y2="110.6" stroke="#A50021"/><line x1="579.8" y1="128.8" x2="609.5" y2="128.8" stroke="#0E1466"/><line x1="579.8" y1="147.0" x2="609.5" y2="147.0" stroke="#404040"/><line x1="579.8" y1="165.2" x2="609.5" y2="165.2" stroke="#7097C0"/><line x1="579.8" y1="183.4" x2="609.5" y2="183.4" stroke="#8E8E8E"/><line x1="579.8" y1="201.6" x2="609.5" y2="201.6" stroke="#A8B5C4"/><line x1="579.8" y1="219.8" x2="609.5" y2="219.8" stroke="#C8001A"/><line x1="579.8" y1="238.0" x2="609.5" y2="238.0" stroke="#141C7C"/><line x1="579.8" y1="256.2" x2="609.5" y2="256.2" stroke="#585858"/><line x1="579.8" y1="274.4" x2="609.5" y2="274.4" stroke="#8DB6E2"/><line x1="579.8" y1="292.6" x2="609.5" y2="292.6" stroke="#B8B8B8"/><line x1="579.8" y1="310.8" x2="609.5" y2="310.8" stroke="#CCDDEF"/><line x1="579.8" y1="329.0" x2="609.5" y2="329.0" stroke="#D8969A"/>
</g>
</svg>
<div class="yl" style="top:42.5px">450</div><div class="yl" style="top:76.5px">400</div><div class="yl" style="top:110.5px">350</div><div class="yl" style="top:144.5px">300</div><div class="yl" style="top:178.5px">250</div><div class="yl" style="top:212.5px">200</div><div class="yl" style="top:246.5px">150</div><div class="yl" style="top:280.5px">100</div><div class="yl" style="top:314.5px">50</div><div class="yl" style="top:348.5px">0</div>
<div class="xl" style="left:11.5px">2020-01…</div><div class="xl" style="left:76.3px">2020-04…</div><div class="xl" style="left:141.0px">2020-07…</div><div class="xl" style="left:205.8px">2020-09…</div><div class="xl" style="left:270.6px">2020-12…</div><div class="xl" style="left:335.3px">2021-03…</div><div class="xl" style="left:400.1px">2021-06…</div><div class="xl" style="left:464.9px">2021-09…</div><div class="xl" style="left:529.7px">2021-12…</div>
<div class="lt" style="top:101.6px">镇江</div><div class="lt" style="top:119.8px">泰州</div><div class="lt" style="top:138.0px">盐城</div><div class="lt" style="top:156.2px">淮安</div><div class="lt" style="top:174.4px">连云港</div><div class="lt" style="top:192.6px">扬州</div><div class="lt" style="top:210.8px">南通</div><div class="lt" style="top:229.0px">常州</div><div class="lt" style="top:247.2px">宿迁</div><div class="lt" style="top:265.4px">南京</div><div class="lt" style="top:283.6px">无锡</div><div class="lt" style="top:301.8px">徐州</div><div class="lt" style="top:320.0px">苏州</div>
<div class="rule" style="top:388px"></div>
<div class="note" style="top:393px">注：图例按最后一天信用利差由高到底排序。</div>
<div class="note" style="top:413px">资料来源：DM，中证鹏元整理</div>
</body></html>
